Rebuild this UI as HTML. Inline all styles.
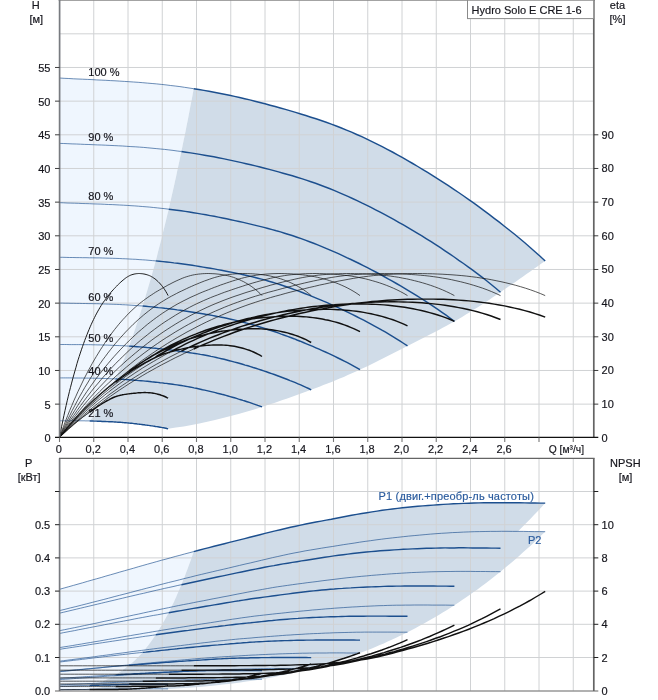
<!DOCTYPE html>
<html lang="ru"><head><meta charset="utf-8"><title>Hydro Solo E CRE 1-6</title>
<style>html,body{margin:0;padding:0;background:#fff;}body{width:658px;height:700px;overflow:hidden;}svg{display:block;}</style>
</head><body>
<svg width="658" height="700" viewBox="0 0 658 700" font-family="'Liberation Sans', Arial, sans-serif" font-size="11" fill="#15151c">
<style>text{stroke:#15151c;stroke-width:.18px;stroke-linejoin:round}text.b{stroke:#2b5c9e}</style>
<rect width="658" height="700" fill="#fff"/>
<defs><clipPath id="ct"><rect x="59.5" y="0" width="534.2" height="437.4"/></clipPath><clipPath id="cb"><rect x="59.5" y="458.4" width="534.2" height="232.3"/></clipPath></defs>
<path d="M59.5 78.0 L64.1 78.3 L68.8 78.5 L73.4 78.8 L78.0 79.0 L82.6 79.2 L87.3 79.4 L91.9 79.6 L96.5 79.9 L101.2 80.1 L105.8 80.3 L110.4 80.6 L115.0 80.8 L119.7 81.1 L124.3 81.4 L128.9 81.7 L133.6 82.0 L138.2 82.3 L142.8 82.7 L147.4 83.1 L152.1 83.5 L156.7 83.9 L161.3 84.4 L166.0 84.9 L170.6 85.5 L175.2 86.0 L179.9 86.6 L184.5 87.3 L189.1 88.0 L193.7 88.7 L192.7 94.2 L191.7 99.7 L190.6 105.1 L189.6 110.4 L188.6 115.7 L187.6 121.0 L186.5 126.2 L185.5 131.4 L184.5 136.5 L183.4 141.6 L182.4 146.6 L181.4 151.5 L180.3 156.6 L179.3 161.6 L178.2 166.6 L177.1 171.5 L176.1 176.4 L175.0 181.2 L174.0 186.0 L172.9 190.7 L171.8 195.4 L170.8 200.0 L169.7 204.6 L168.7 209.2 L167.6 213.7 L166.5 218.3 L165.4 222.8 L164.3 227.2 L163.2 231.6 L162.2 235.9 L161.1 240.2 L160.0 244.4 L158.9 248.6 L157.8 252.8 L156.8 256.9 L155.7 260.9 L154.6 264.9 L153.5 268.9 L152.4 272.8 L151.3 276.7 L150.2 280.5 L149.1 284.3 L148.0 288.0 L146.9 291.7 L145.8 295.3 L144.8 298.9 L143.7 302.5 L142.6 306.0 L141.4 309.6 L140.3 313.2 L139.2 316.7 L138.1 320.1 L136.9 323.5 L135.8 326.9 L134.7 330.2 L133.6 333.5 L132.5 336.7 L131.3 339.9 L130.2 343.0 L129.1 346.1 L127.9 349.1 L126.8 352.1 L125.7 355.1 L124.5 357.9 L123.4 360.7 L122.3 363.5 L121.1 366.2 L120.0 368.9 L118.9 371.5 L117.7 374.0 L116.6 376.5 L115.5 378.9 L113.3 383.4 L111.1 387.8 L109.0 391.9 L106.8 395.8 L104.7 399.6 L102.5 403.2 L100.3 406.6 L98.2 409.8 L96.0 412.8 L93.8 415.7 L91.7 418.4 L89.5 420.9 L89.5 420.9 L88.5 420.9 L87.4 420.9 L86.4 420.9 L85.4 420.9 L84.3 420.8 L83.3 420.8 L82.3 420.8 L81.2 420.8 L80.2 420.8 L79.2 420.8 L78.1 420.8 L77.1 420.8 L76.1 420.8 L75.0 420.8 L74.0 420.8 L73.0 420.8 L71.9 420.8 L70.9 420.8 L69.8 420.8 L68.8 420.8 L67.8 420.8 L66.7 420.8 L65.7 420.8 L64.7 420.8 L63.6 420.8 L62.6 420.8 L61.6 420.8 L60.5 420.8 L59.5 420.8Z" fill="#eff6fe"/>
<path d="M193.7 88.7 L199.7 89.6 L205.7 90.7 L211.6 91.8 L217.6 92.9 L223.5 94.1 L229.5 95.3 L235.4 96.6 L241.4 98.0 L247.3 99.4 L253.3 100.8 L259.3 102.3 L265.2 103.8 L271.2 105.4 L277.1 107.1 L283.1 108.7 L289.0 110.5 L295.0 112.2 L301.0 114.0 L306.9 115.9 L312.9 117.8 L318.8 119.8 L324.8 121.8 L330.7 123.9 L336.7 126.2 L342.6 128.5 L348.6 131.0 L354.6 133.5 L360.5 136.2 L366.5 138.9 L372.4 141.8 L378.4 144.7 L384.3 147.8 L390.3 150.9 L396.3 154.2 L402.2 157.5 L408.2 160.9 L414.1 164.3 L420.1 167.9 L426.0 171.5 L432.0 175.1 L437.9 178.9 L443.9 182.7 L449.9 186.6 L455.8 190.6 L461.8 194.7 L467.7 198.8 L473.7 203.1 L479.6 207.4 L485.6 211.8 L491.6 216.2 L497.5 220.8 L503.5 225.4 L509.4 230.2 L515.4 235.0 L521.3 239.9 L527.3 245.0 L533.3 250.2 L539.2 255.5 L545.2 261.0 L541.4 263.6 L537.7 266.2 L534.0 268.8 L530.3 271.5 L526.5 274.1 L522.8 276.7 L519.1 279.3 L515.4 281.9 L511.6 284.5 L507.9 287.0 L504.2 289.6 L500.5 292.2 L496.6 294.8 L492.8 297.3 L489.0 299.9 L485.1 302.4 L481.3 304.9 L477.4 307.4 L473.6 309.8 L469.8 312.2 L465.9 314.6 L462.1 316.9 L458.2 319.2 L454.4 321.4 L450.5 323.6 L446.6 325.7 L442.7 327.8 L438.8 329.9 L434.9 332.0 L430.9 334.0 L427.0 336.0 L423.1 338.0 L419.2 339.9 L415.3 341.9 L411.4 343.9 L407.5 345.9 L403.5 347.9 L399.6 349.9 L395.6 352.0 L391.7 354.0 L387.7 356.0 L383.8 358.0 L379.8 360.0 L375.9 362.0 L371.9 364.0 L367.9 365.9 L364.0 367.8 L360.0 369.6 L356.0 371.5 L351.9 373.3 L347.8 375.1 L343.8 376.9 L339.7 378.6 L335.6 380.3 L331.6 381.9 L327.5 383.5 L323.4 385.1 L319.4 386.7 L315.3 388.2 L311.2 389.8 L307.1 391.3 L303.0 392.8 L298.9 394.3 L294.8 395.8 L290.7 397.3 L286.6 398.7 L282.5 400.1 L278.4 401.6 L274.3 402.9 L270.2 404.3 L266.1 405.6 L262.0 406.9 L254.2 409.4 L246.3 411.7 L238.5 414.0 L230.7 416.1 L222.9 418.1 L215.0 420.0 L207.2 421.8 L199.4 423.5 L191.6 425.0 L183.7 426.4 L175.9 427.6 L168.1 428.7 L168.1 428.7 L166.7 428.4 L165.4 428.2 L164.1 427.9 L162.7 427.7 L161.4 427.4 L160.1 427.2 L158.8 427.0 L157.4 426.8 L156.1 426.6 L154.8 426.3 L153.4 426.1 L152.1 425.9 L150.8 425.7 L149.4 425.5 L148.1 425.3 L146.8 425.2 L145.4 425.0 L144.1 424.8 L142.8 424.6 L141.4 424.5 L140.1 424.3 L138.8 424.1 L137.4 424.0 L136.1 423.8 L134.8 423.7 L133.5 423.5 L132.1 423.4 L130.8 423.2 L129.5 423.1 L128.1 423.0 L126.8 422.9 L125.5 422.7 L124.1 422.6 L122.8 422.5 L121.5 422.4 L120.1 422.3 L118.8 422.2 L117.5 422.2 L116.1 422.1 L114.8 422.0 L113.5 421.9 L112.1 421.8 L110.8 421.8 L109.5 421.7 L108.2 421.6 L106.8 421.6 L105.5 421.5 L104.2 421.4 L102.8 421.4 L101.5 421.3 L100.2 421.3 L98.8 421.2 L97.5 421.2 L96.2 421.1 L94.8 421.1 L93.5 421.0 L92.2 421.0 L90.8 421.0 L89.5 420.9 L89.5 420.9 L91.7 418.4 L93.8 415.7 L96.0 412.8 L98.2 409.8 L100.3 406.6 L102.5 403.2 L104.7 399.6 L106.8 395.8 L109.0 391.9 L111.1 387.8 L113.3 383.4 L115.5 378.9 L116.6 376.5 L117.7 374.0 L118.9 371.5 L120.0 368.9 L121.1 366.2 L122.3 363.5 L123.4 360.7 L124.5 357.9 L125.7 355.1 L126.8 352.1 L127.9 349.1 L129.1 346.1 L130.2 343.0 L131.3 339.9 L132.5 336.7 L133.6 333.5 L134.7 330.2 L135.8 326.9 L136.9 323.5 L138.1 320.1 L139.2 316.7 L140.3 313.2 L141.4 309.6 L142.6 306.0 L143.7 302.5 L144.8 298.9 L145.8 295.3 L146.9 291.7 L148.0 288.0 L149.1 284.3 L150.2 280.5 L151.3 276.7 L152.4 272.8 L153.5 268.9 L154.6 264.9 L155.7 260.9 L156.8 256.9 L157.8 252.8 L158.9 248.6 L160.0 244.4 L161.1 240.2 L162.2 235.9 L163.2 231.6 L164.3 227.2 L165.4 222.8 L166.5 218.3 L167.6 213.7 L168.7 209.2 L169.7 204.6 L170.8 200.0 L171.8 195.4 L172.9 190.7 L174.0 186.0 L175.0 181.2 L176.1 176.4 L177.1 171.5 L178.2 166.6 L179.3 161.6 L180.3 156.6 L181.4 151.5 L182.4 146.6 L183.4 141.6 L184.5 136.5 L185.5 131.4 L186.5 126.2 L187.6 121.0 L188.6 115.7 L189.6 110.4 L190.6 105.1 L191.7 99.7 L192.7 94.2 L193.7 88.7Z" fill="#d0dce8"/>
<path d="M93.75 0V437.4M128.00 0V437.4M162.25 0V437.4M196.50 0V437.4M230.75 0V437.4M265.00 0V437.4M299.25 0V437.4M333.50 0V437.4M367.75 0V437.4M402.00 0V437.4M436.25 0V437.4M470.50 0V437.4M504.75 0V437.4M539.00 0V437.4M573.25 0V437.4M59.5 404.13H593.7M59.5 370.47H593.7M59.5 336.81H593.7M59.5 303.14H593.7M59.5 269.48H593.7M59.5 235.81H593.7M59.5 202.14H593.7M59.5 168.48H593.7M59.5 134.81H593.7M59.5 101.15H593.7M59.5 67.48H593.7M59.5 33.82H593.7" stroke="#d0d2d4" stroke-width="1" fill="none"/>
<path d="M59.5 78.0 L64.1 78.3 L68.8 78.5 L73.4 78.8 L78.0 79.0 L82.6 79.2 L87.3 79.4 L91.9 79.6 L96.5 79.9 L101.2 80.1 L105.8 80.3 L110.4 80.6 L115.0 80.8 L119.7 81.1 L124.3 81.4 L128.9 81.7 L133.6 82.0 L138.2 82.3 L142.8 82.7 L147.4 83.1 L152.1 83.5 L156.7 83.9 L161.3 84.4 L166.0 84.9 L170.6 85.5 L175.2 86.0 L179.9 86.6 L184.5 87.3 L189.1 88.0 L193.7 88.7M59.5 143.4 L63.7 143.5 L67.9 143.7 L72.1 143.9 L76.3 144.0 L80.5 144.2 L84.7 144.4 L88.9 144.5 L93.1 144.7 L97.3 144.9 L101.5 145.0 L105.7 145.2 L109.9 145.4 L114.1 145.6 L118.3 145.8 L122.5 146.0 L126.7 146.3 L130.9 146.6 L135.2 146.8 L139.4 147.1 L143.6 147.4 L147.8 147.8 L152.0 148.2 L156.2 148.6 L160.4 149.0 L164.6 149.4 L168.8 149.9 L173.0 150.4 L177.2 151.0 L181.4 151.5M59.5 202.7 L63.3 202.8 L67.0 203.0 L70.8 203.1 L74.6 203.2 L78.3 203.3 L82.1 203.5 L85.8 203.6 L89.6 203.7 L93.4 203.9 L97.1 204.0 L100.9 204.1 L104.7 204.3 L108.4 204.5 L112.2 204.6 L116.0 204.8 L119.7 205.0 L123.5 205.2 L127.2 205.4 L131.0 205.7 L134.8 205.9 L138.5 206.2 L142.3 206.5 L146.1 206.8 L149.8 207.1 L153.6 207.5 L157.4 207.9 L161.1 208.3 L164.9 208.7 L168.7 209.2M59.5 257.3 L62.8 257.3 L66.1 257.4 L69.4 257.5 L72.8 257.5 L76.1 257.6 L79.4 257.6 L82.7 257.7 L86.0 257.7 L89.3 257.8 L92.7 257.8 L96.0 257.9 L99.3 257.9 L102.6 258.0 L105.9 258.1 L109.2 258.2 L112.6 258.3 L115.9 258.4 L119.2 258.5 L122.5 258.7 L125.8 258.8 L129.1 259.0 L132.5 259.2 L135.8 259.3 L139.1 259.6 L142.4 259.8 L145.7 260.0 L149.0 260.3 L152.4 260.6 L155.7 260.9M59.5 303.1 L62.4 303.1 L65.2 303.2 L68.1 303.2 L71.0 303.3 L73.8 303.3 L76.7 303.4 L79.6 303.4 L82.4 303.5 L85.3 303.5 L88.1 303.6 L91.0 303.6 L93.9 303.7 L96.7 303.7 L99.6 303.8 L102.5 303.9 L105.3 304.0 L108.2 304.1 L111.1 304.2 L113.9 304.3 L116.8 304.4 L119.7 304.5 L122.5 304.7 L125.4 304.8 L128.2 305.0 L131.1 305.2 L134.0 305.4 L136.8 305.6 L139.7 305.8 L142.6 306.0M59.5 344.5 L61.9 344.5 L64.3 344.5 L66.7 344.5 L69.1 344.6 L71.5 344.6 L73.9 344.6 L76.3 344.6 L78.7 344.6 L81.1 344.6 L83.5 344.7 L85.9 344.7 L88.3 344.7 L90.7 344.7 L93.1 344.8 L95.5 344.8 L97.9 344.9 L100.3 344.9 L102.7 345.0 L105.1 345.0 L107.5 345.1 L109.9 345.2 L112.3 345.3 L114.7 345.4 L117.1 345.5 L119.5 345.6 L121.9 345.7 L124.3 345.8 L126.7 346.0 L129.1 346.1M59.5 377.9 L61.4 377.9 L63.4 377.9 L65.3 377.9 L67.2 377.9 L69.2 377.9 L71.1 377.9 L73.0 378.0 L74.9 378.0 L76.9 378.0 L78.8 378.0 L80.7 378.0 L82.7 378.0 L84.6 378.1 L86.5 378.1 L88.5 378.1 L90.4 378.1 L92.3 378.2 L94.2 378.2 L96.2 378.2 L98.1 378.3 L100.0 378.3 L102.0 378.4 L103.9 378.5 L105.8 378.5 L107.8 378.6 L109.7 378.7 L111.6 378.8 L113.5 378.8 L115.5 378.9M59.5 420.8 L60.5 420.8 L61.6 420.8 L62.6 420.8 L63.6 420.8 L64.7 420.8 L65.7 420.8 L66.7 420.8 L67.8 420.8 L68.8 420.8 L69.8 420.8 L70.9 420.8 L71.9 420.8 L73.0 420.8 L74.0 420.8 L75.0 420.8 L76.1 420.8 L77.1 420.8 L78.1 420.8 L79.2 420.8 L80.2 420.8 L81.2 420.8 L82.3 420.8 L83.3 420.8 L84.3 420.8 L85.4 420.9 L86.4 420.9 L87.4 420.9 L88.5 420.9 L89.5 420.9" stroke="#1c4f8e" stroke-width="0.65" fill="none"/>
<path d="M193.7 88.7 L198.8 89.5 L203.9 90.4 L209.0 91.3 L214.1 92.2 L219.2 93.2 L224.3 94.2 L229.4 95.3 L234.5 96.4 L239.6 97.5 L244.7 98.7 L249.8 99.9 L254.9 101.2 L259.9 102.5 L265.0 103.8 L270.1 105.2 L275.2 106.5 L280.3 108.0 L285.4 109.4 L290.5 110.9 L295.6 112.4 L300.7 114.0 L305.8 115.5 L310.9 117.2 L316.0 118.8 L321.1 120.5 L326.2 122.3 L331.3 124.1 L336.3 126.0 L341.4 128.0 L346.5 130.1 L351.6 132.2 L356.7 134.5 L361.8 136.7 L366.9 139.1 L372.0 141.6 L377.1 144.1 L382.2 146.7 L387.3 149.3 L392.4 152.0 L397.5 154.8 L402.6 157.7 L407.7 160.6 L412.7 163.5 L417.8 166.5 L422.9 169.6 L428.0 172.7 L433.1 175.9 L438.2 179.1 L443.3 182.3 L448.4 185.7 L453.5 189.1 L458.6 192.5 L463.7 196.0 L468.8 199.6 L473.9 203.2 L479.0 206.9 L484.0 210.6 L489.1 214.4 L494.2 218.3 L499.3 222.2 L504.4 226.2 L509.5 230.2 L514.6 234.3 L519.7 238.5 L524.8 242.8 L529.9 247.2 L535.0 251.7 L540.1 256.3 L545.2 261.0M181.4 151.5 L186.0 152.2 L190.6 152.9 L195.3 153.6 L199.9 154.4 L204.5 155.2 L209.1 156.0 L213.8 156.8 L218.4 157.7 L223.0 158.6 L227.6 159.6 L232.3 160.6 L236.9 161.6 L241.5 162.6 L246.1 163.7 L250.8 164.8 L255.4 165.9 L260.0 167.0 L264.6 168.2 L269.2 169.4 L273.9 170.6 L278.5 171.9 L283.1 173.2 L287.7 174.5 L292.4 175.8 L297.0 177.2 L301.6 178.6 L306.2 180.1 L310.9 181.7 L315.5 183.3 L320.1 185.0 L324.7 186.7 L329.4 188.5 L334.0 190.4 L338.6 192.3 L343.2 194.3 L347.9 196.4 L352.5 198.5 L357.1 200.6 L361.7 202.9 L366.4 205.1 L371.0 207.4 L375.6 209.8 L380.2 212.2 L384.9 214.7 L389.5 217.2 L394.1 219.7 L398.7 222.3 L403.4 224.9 L408.0 227.6 L412.6 230.3 L417.2 233.1 L421.9 235.9 L426.5 238.8 L431.1 241.7 L435.7 244.7 L440.4 247.7 L445.0 250.8 L449.6 253.9 L454.2 257.0 L458.8 260.3 L463.5 263.5 L468.1 266.8 L472.7 270.2 L477.3 273.7 L482.0 277.2 L486.6 280.8 L491.2 284.5 L495.8 288.3 L500.5 292.2M168.7 209.2 L172.8 209.7 L176.9 210.2 L181.1 210.8 L185.2 211.4 L189.4 212.0 L193.5 212.7 L197.6 213.4 L201.8 214.1 L205.9 214.8 L210.1 215.6 L214.2 216.3 L218.3 217.1 L222.5 218.0 L226.6 218.8 L230.8 219.7 L234.9 220.6 L239.1 221.5 L243.2 222.4 L247.3 223.4 L251.5 224.4 L255.6 225.4 L259.8 226.4 L263.9 227.4 L268.0 228.5 L272.2 229.6 L276.3 230.8 L280.5 231.9 L284.6 233.2 L288.7 234.5 L292.9 235.8 L297.0 237.2 L301.2 238.6 L305.3 240.1 L309.5 241.7 L313.6 243.3 L317.7 244.9 L321.9 246.6 L326.0 248.3 L330.2 250.1 L334.3 251.9 L338.4 253.7 L342.6 255.6 L346.7 257.6 L350.9 259.5 L355.0 261.5 L359.2 263.5 L363.3 265.6 L367.4 267.7 L371.6 269.8 L375.7 272.0 L379.9 274.2 L384.0 276.5 L388.1 278.8 L392.3 281.1 L396.4 283.5 L400.6 285.9 L404.7 288.3 L408.8 290.8 L413.0 293.3 L417.1 295.9 L421.3 298.5 L425.4 301.2 L429.6 303.9 L433.7 306.6 L437.8 309.4 L442.0 312.3 L446.1 315.2 L450.3 318.3 L454.4 321.4M155.7 260.9 L159.3 261.2 L163.0 261.6 L166.6 262.0 L170.3 262.4 L173.9 262.9 L177.6 263.3 L181.2 263.8 L184.9 264.3 L188.5 264.8 L192.2 265.3 L195.8 265.9 L199.5 266.5 L203.1 267.1 L206.8 267.7 L210.4 268.3 L214.1 268.9 L217.7 269.6 L221.4 270.3 L225.0 271.0 L228.7 271.7 L232.3 272.4 L236.0 273.2 L239.6 273.9 L243.3 274.7 L246.9 275.5 L250.6 276.4 L254.2 277.3 L257.9 278.2 L261.5 279.1 L265.2 280.1 L268.8 281.2 L272.5 282.3 L276.1 283.4 L279.8 284.5 L283.4 285.7 L287.1 287.0 L290.7 288.2 L294.4 289.6 L298.0 290.9 L301.7 292.3 L305.3 293.7 L309.0 295.1 L312.6 296.6 L316.2 298.1 L319.9 299.6 L323.5 301.2 L327.2 302.7 L330.8 304.3 L334.5 306.0 L338.1 307.6 L341.8 309.3 L345.4 311.1 L349.1 312.8 L352.7 314.6 L356.4 316.5 L360.0 318.3 L363.7 320.2 L367.3 322.1 L371.0 324.1 L374.6 326.1 L378.3 328.1 L381.9 330.2 L385.6 332.2 L389.2 334.4 L392.9 336.6 L396.5 338.8 L400.2 341.1 L403.8 343.5 L407.5 345.9M142.6 306.0 L145.7 306.3 L148.9 306.6 L152.0 306.9 L155.2 307.2 L158.3 307.6 L161.5 307.9 L164.6 308.3 L167.8 308.6 L170.9 309.0 L174.1 309.4 L177.2 309.9 L180.4 310.3 L183.5 310.8 L186.7 311.2 L189.8 311.7 L193.0 312.2 L196.2 312.7 L199.3 313.2 L202.5 313.7 L205.6 314.3 L208.8 314.8 L211.9 315.4 L215.1 316.0 L218.2 316.6 L221.4 317.2 L224.5 317.8 L227.7 318.5 L230.8 319.2 L234.0 319.9 L237.1 320.6 L240.3 321.4 L243.4 322.2 L246.6 323.1 L249.7 323.9 L252.9 324.8 L256.0 325.8 L259.2 326.7 L262.3 327.7 L265.5 328.7 L268.6 329.7 L271.8 330.8 L274.9 331.8 L278.1 332.9 L281.2 334.1 L284.4 335.2 L287.6 336.4 L290.7 337.5 L293.9 338.7 L297.0 340.0 L300.2 341.2 L303.3 342.5 L306.5 343.8 L309.6 345.1 L312.8 346.4 L315.9 347.8 L319.1 349.2 L322.2 350.6 L325.4 352.0 L328.5 353.4 L331.7 354.9 L334.8 356.4 L338.0 358.0 L341.1 359.5 L344.3 361.1 L347.4 362.7 L350.6 364.4 L353.7 366.1 L356.9 367.8 L360.0 369.6M129.1 346.1 L131.7 346.3 L134.4 346.5 L137.0 346.7 L139.6 346.9 L142.3 347.1 L144.9 347.3 L147.6 347.6 L150.2 347.8 L152.8 348.1 L155.5 348.3 L158.1 348.6 L160.8 348.9 L163.4 349.2 L166.0 349.5 L168.7 349.8 L171.3 350.1 L174.0 350.5 L176.6 350.8 L179.2 351.2 L181.9 351.5 L184.5 351.9 L187.2 352.3 L189.8 352.7 L192.4 353.1 L195.1 353.5 L197.7 353.9 L200.4 354.4 L203.0 354.8 L205.6 355.3 L208.3 355.8 L210.9 356.4 L213.6 356.9 L216.2 357.5 L218.8 358.1 L221.5 358.7 L224.1 359.3 L226.8 360.0 L229.4 360.7 L232.0 361.4 L234.7 362.1 L237.3 362.8 L240.0 363.5 L242.6 364.3 L245.2 365.1 L247.9 365.8 L250.5 366.6 L253.2 367.5 L255.8 368.3 L258.4 369.1 L261.1 370.0 L263.7 370.9 L266.4 371.8 L269.0 372.7 L271.6 373.6 L274.3 374.5 L276.9 375.5 L279.6 376.5 L282.2 377.5 L284.8 378.5 L287.5 379.5 L290.1 380.6 L292.8 381.6 L295.4 382.7 L298.0 383.8 L300.7 384.9 L303.3 386.1 L306.0 387.3 L308.6 388.5 L311.2 389.8M115.5 378.9 L117.6 379.1 L119.7 379.2 L121.8 379.3 L124.0 379.4 L126.1 379.6 L128.2 379.7 L130.3 379.9 L132.5 380.0 L134.6 380.2 L136.7 380.4 L138.8 380.6 L141.0 380.7 L143.1 380.9 L145.2 381.1 L147.3 381.3 L149.5 381.5 L151.6 381.8 L153.7 382.0 L155.8 382.2 L157.9 382.4 L160.1 382.7 L162.2 382.9 L164.3 383.2 L166.4 383.4 L168.6 383.7 L170.7 384.0 L172.8 384.3 L174.9 384.6 L177.1 384.9 L179.2 385.2 L181.3 385.5 L183.4 385.9 L185.6 386.3 L187.7 386.6 L189.8 387.0 L191.9 387.4 L194.0 387.9 L196.2 388.3 L198.3 388.7 L200.4 389.2 L202.5 389.7 L204.7 390.1 L206.8 390.6 L208.9 391.1 L211.0 391.6 L213.2 392.1 L215.3 392.6 L217.4 393.2 L219.5 393.7 L221.7 394.3 L223.8 394.8 L225.9 395.4 L228.0 396.0 L230.1 396.6 L232.3 397.2 L234.4 397.8 L236.5 398.4 L238.6 399.1 L240.8 399.7 L242.9 400.4 L245.0 401.0 L247.1 401.7 L249.3 402.4 L251.4 403.1 L253.5 403.9 L255.6 404.6 L257.8 405.4 L259.9 406.1 L262.0 406.9M89.5 420.9 L90.6 421.0 L91.8 421.0 L92.9 421.0 L94.1 421.1 L95.2 421.1 L96.3 421.1 L97.5 421.2 L98.6 421.2 L99.8 421.3 L100.9 421.3 L102.0 421.4 L103.2 421.4 L104.3 421.5 L105.4 421.5 L106.6 421.6 L107.7 421.6 L108.9 421.7 L110.0 421.7 L111.1 421.8 L112.3 421.8 L113.4 421.9 L114.6 422.0 L115.7 422.0 L116.8 422.1 L118.0 422.2 L119.1 422.3 L120.3 422.3 L121.4 422.4 L122.5 422.5 L123.7 422.6 L124.8 422.7 L125.9 422.8 L127.1 422.9 L128.2 423.0 L129.4 423.1 L130.5 423.2 L131.6 423.3 L132.8 423.4 L133.9 423.6 L135.1 423.7 L136.2 423.8 L137.3 424.0 L138.5 424.1 L139.6 424.2 L140.7 424.4 L141.9 424.5 L143.0 424.7 L144.2 424.8 L145.3 425.0 L146.4 425.1 L147.6 425.3 L148.7 425.4 L149.9 425.6 L151.0 425.8 L152.1 425.9 L153.3 426.1 L154.4 426.3 L155.5 426.5 L156.7 426.6 L157.8 426.8 L159.0 427.0 L160.1 427.2 L161.2 427.4 L162.4 427.6 L163.5 427.8 L164.7 428.0 L165.8 428.2 L166.9 428.5 L168.1 428.7" stroke="#1c4f8e" stroke-width="1.45" fill="none" stroke-linecap="butt"/>
<path d="M59.5 437.4 L64.4 431.7 L69.3 426.2 L74.2 420.8 L79.1 415.6 L84.0 410.5 L88.9 405.6 L93.8 400.8 L98.7 396.2 L103.7 391.7 L108.6 387.3 L113.5 383.1 L118.4 378.9 L123.3 374.9 L128.2 371.0 L133.1 367.2 L138.0 363.5 L142.9 359.9 L147.8 356.5 L152.7 353.1 L157.6 349.8 L162.5 346.6 L167.4 343.5 L172.3 340.5 L177.2 337.6 L182.1 334.8 L187.0 332.0 L192.0 329.4 L196.9 326.8 L201.8 324.3 L206.7 321.9 L211.6 319.6 L216.5 317.4 L221.4 315.2 L226.3 313.1 L231.2 311.1 L236.1 309.2 L241.0 307.3 L245.9 305.5 L250.8 303.8 L255.7 302.2 L260.6 300.6 L265.5 299.1 L270.4 297.6 L275.4 296.2 L280.3 294.9 L285.2 293.5 L290.1 292.2 L295.0 291.0 L299.9 289.8 L304.8 288.6 L309.7 287.4 L314.6 286.3 L319.5 285.1 L324.4 284.1 L329.3 283.0 L334.2 282.0 L339.1 281.0 L344.0 280.1 L348.9 279.2 L353.8 278.3 L358.7 277.5 L363.7 276.8 L368.6 276.2 L373.5 275.6 L378.4 275.1 L383.3 274.7 L388.2 274.4 L393.1 274.1 L398.0 273.9 L402.9 273.7 L407.8 273.6 L412.7 273.5 L417.6 273.5 L422.5 273.6 L427.4 273.7 L432.3 273.8 L437.2 274.0 L442.1 274.2 L447.1 274.5 L452.0 274.8 L456.9 275.2 L461.8 275.6 L466.7 276.1 L471.6 276.7 L476.5 277.3 L481.4 278.1 L486.3 278.8 L491.2 279.7 L496.1 280.7 L501.0 281.7 L505.9 282.8 L510.8 284.0 L515.7 285.3 L520.6 286.7 L525.5 288.2 L530.4 289.8 L535.4 291.6 L540.3 293.5 L545.2 295.6M59.5 437.4 L64.0 431.7 L68.4 426.2 L72.9 420.8 L77.3 415.6 L81.8 410.5 L86.2 405.6 L90.7 400.8 L95.1 396.2 L99.6 391.7 L104.0 387.3 L108.5 383.1 L113.0 378.9 L117.4 374.9 L121.9 371.0 L126.3 367.2 L130.8 363.5 L135.2 359.9 L139.7 356.5 L144.1 353.1 L148.6 349.8 L153.0 346.6 L157.5 343.5 L161.9 340.5 L166.4 337.6 L170.9 334.8 L175.3 332.0 L179.8 329.4 L184.2 326.8 L188.7 324.3 L193.1 321.9 L197.6 319.6 L202.0 317.4 L206.5 315.2 L210.9 313.1 L215.4 311.1 L219.9 309.2 L224.3 307.3 L228.8 305.5 L233.2 303.8 L237.7 302.2 L242.1 300.6 L246.6 299.1 L251.0 297.6 L255.5 296.2 L259.9 294.9 L264.4 293.5 L268.8 292.2 L273.3 291.0 L277.8 289.8 L282.2 288.6 L286.7 287.4 L291.1 286.3 L295.6 285.1 L300.0 284.1 L304.5 283.0 L308.9 282.0 L313.4 281.0 L317.8 280.1 L322.3 279.2 L326.8 278.3 L331.2 277.5 L335.7 276.8 L340.1 276.2 L344.6 275.6 L349.0 275.1 L353.5 274.7 L357.9 274.4 L362.4 274.1 L366.8 273.9 L371.3 273.7 L375.8 273.6 L380.2 273.5 L384.7 273.5 L389.1 273.6 L393.6 273.7 L398.0 273.8 L402.5 274.0 L406.9 274.2 L411.4 274.5 L415.8 274.8 L420.3 275.2 L424.7 275.6 L429.2 276.1 L433.7 276.7 L438.1 277.3 L442.6 278.1 L447.0 278.8 L451.5 279.7 L455.9 280.7 L460.4 281.7 L464.8 282.8 L469.3 284.0 L473.7 285.3 L478.2 286.7 L482.7 288.2 L487.1 289.8 L491.6 291.6 L496.0 293.5 L500.5 295.6M59.5 437.4 L63.5 431.7 L67.5 426.2 L71.5 420.8 L75.5 415.6 L79.4 410.5 L83.4 405.6 L87.4 400.8 L91.4 396.2 L95.4 391.7 L99.4 387.3 L103.4 383.1 L107.4 378.9 L111.4 374.9 L115.3 371.0 L119.3 367.2 L123.3 363.5 L127.3 359.9 L131.3 356.5 L135.3 353.1 L139.3 349.8 L143.3 346.6 L147.3 343.5 L151.2 340.5 L155.2 337.6 L159.2 334.8 L163.2 332.0 L167.2 329.4 L171.2 326.8 L175.2 324.3 L179.2 321.9 L183.2 319.6 L187.1 317.4 L191.1 315.2 L195.1 313.1 L199.1 311.1 L203.1 309.2 L207.1 307.3 L211.1 305.5 L215.1 303.8 L219.1 302.2 L223.0 300.6 L227.0 299.1 L231.0 297.6 L235.0 296.2 L239.0 294.9 L243.0 293.5 L247.0 292.2 L251.0 291.0 L255.0 289.8 L258.9 288.6 L262.9 287.4 L266.9 286.3 L270.9 285.1 L274.9 284.1 L278.9 283.0 L282.9 282.0 L286.9 281.0 L290.9 280.1 L294.8 279.2 L298.8 278.3 L302.8 277.5 L306.8 276.8 L310.8 276.2 L314.8 275.6 L318.8 275.1 L322.8 274.7 L326.8 274.4 L330.7 274.1 L334.7 273.9 L338.7 273.7 L342.7 273.6 L346.7 273.5 L350.7 273.5 L354.7 273.6 L358.7 273.7 L362.7 273.8 L366.6 274.0 L370.6 274.2 L374.6 274.5 L378.6 274.8 L382.6 275.2 L386.6 275.6 L390.6 276.1 L394.6 276.7 L398.6 277.3 L402.5 278.1 L406.5 278.8 L410.5 279.7 L414.5 280.7 L418.5 281.7 L422.5 282.8 L426.5 284.0 L430.5 285.3 L434.5 286.7 L438.4 288.2 L442.4 289.8 L446.4 291.6 L450.4 293.5 L454.4 295.6M59.5 437.4 L63.0 431.7 L66.5 426.2 L70.0 420.8 L73.6 415.6 L77.1 410.5 L80.6 405.6 L84.1 400.8 L87.6 396.2 L91.1 391.7 L94.6 387.3 L98.2 383.1 L101.7 378.9 L105.2 374.9 L108.7 371.0 L112.2 367.2 L115.7 363.5 L119.3 359.9 L122.8 356.5 L126.3 353.1 L129.8 349.8 L133.3 346.6 L136.8 343.5 L140.3 340.5 L143.9 337.6 L147.4 334.8 L150.9 332.0 L154.4 329.4 L157.9 326.8 L161.4 324.3 L164.9 321.9 L168.5 319.6 L172.0 317.4 L175.5 315.2 L179.0 313.1 L182.5 311.1 L186.0 309.2 L189.6 307.3 L193.1 305.5 L196.6 303.8 L200.1 302.2 L203.6 300.6 L207.1 299.1 L210.6 297.6 L214.2 296.2 L217.7 294.9 L221.2 293.5 L224.7 292.2 L228.2 291.0 L231.7 289.8 L235.2 288.6 L238.8 287.4 L242.3 286.3 L245.8 285.1 L249.3 284.1 L252.8 283.0 L256.3 282.0 L259.9 281.0 L263.4 280.1 L266.9 279.2 L270.4 278.3 L273.9 277.5 L277.4 276.8 L280.9 276.2 L284.5 275.6 L288.0 275.1 L291.5 274.7 L295.0 274.4 L298.5 274.1 L302.0 273.9 L305.5 273.7 L309.1 273.6 L312.6 273.5 L316.1 273.5 L319.6 273.6 L323.1 273.7 L326.6 273.8 L330.2 274.0 L333.7 274.2 L337.2 274.5 L340.7 274.8 L344.2 275.2 L347.7 275.6 L351.2 276.1 L354.8 276.7 L358.3 277.3 L361.8 278.1 L365.3 278.8 L368.8 279.7 L372.3 280.7 L375.8 281.7 L379.4 282.8 L382.9 284.0 L386.4 285.3 L389.9 286.7 L393.4 288.2 L396.9 289.8 L400.5 291.6 L404.0 293.5 L407.5 295.6M59.5 437.4 L62.5 431.7 L65.6 426.2 L68.6 420.8 L71.6 415.6 L74.7 410.5 L77.7 405.6 L80.8 400.8 L83.8 396.2 L86.8 391.7 L89.9 387.3 L92.9 383.1 L95.9 378.9 L99.0 374.9 L102.0 371.0 L105.0 367.2 L108.1 363.5 L111.1 359.9 L114.1 356.5 L117.2 353.1 L120.2 349.8 L123.3 346.6 L126.3 343.5 L129.3 340.5 L132.4 337.6 L135.4 334.8 L138.4 332.0 L141.5 329.4 L144.5 326.8 L147.5 324.3 L150.6 321.9 L153.6 319.6 L156.6 317.4 L159.7 315.2 L162.7 313.1 L165.8 311.1 L168.8 309.2 L171.8 307.3 L174.9 305.5 L177.9 303.8 L180.9 302.2 L184.0 300.6 L187.0 299.1 L190.0 297.6 L193.1 296.2 L196.1 294.9 L199.1 293.5 L202.2 292.2 L205.2 291.0 L208.3 289.8 L211.3 288.6 L214.3 287.4 L217.4 286.3 L220.4 285.1 L223.4 284.1 L226.5 283.0 L229.5 282.0 L232.5 281.0 L235.6 280.1 L238.6 279.2 L241.6 278.3 L244.7 277.5 L247.7 276.8 L250.8 276.2 L253.8 275.6 L256.8 275.1 L259.9 274.7 L262.9 274.4 L265.9 274.1 L269.0 273.9 L272.0 273.7 L275.0 273.6 L278.1 273.5 L281.1 273.5 L284.1 273.6 L287.2 273.7 L290.2 273.8 L293.3 274.0 L296.3 274.2 L299.3 274.5 L302.4 274.8 L305.4 275.2 L308.4 275.6 L311.5 276.1 L314.5 276.7 L317.5 277.3 L320.6 278.1 L323.6 278.8 L326.7 279.7 L329.7 280.7 L332.7 281.7 L335.8 282.8 L338.8 284.0 L341.8 285.3 L344.9 286.7 L347.9 288.2 L350.9 289.8 L354.0 291.6 L357.0 293.5 L360.0 295.6M59.5 437.4 L62.0 431.7 L64.6 426.2 L67.1 420.8 L69.7 415.6 L72.2 410.5 L74.8 405.6 L77.3 400.8 L79.8 396.2 L82.4 391.7 L84.9 387.3 L87.5 383.1 L90.0 378.9 L92.6 374.9 L95.1 371.0 L97.6 367.2 L100.2 363.5 L102.7 359.9 L105.3 356.5 L107.8 353.1 L110.4 349.8 L112.9 346.6 L115.4 343.5 L118.0 340.5 L120.5 337.6 L123.1 334.8 L125.6 332.0 L128.2 329.4 L130.7 326.8 L133.2 324.3 L135.8 321.9 L138.3 319.6 L140.9 317.4 L143.4 315.2 L146.0 313.1 L148.5 311.1 L151.0 309.2 L153.6 307.3 L156.1 305.5 L158.7 303.8 L161.2 302.2 L163.8 300.6 L166.3 299.1 L168.8 297.6 L171.4 296.2 L173.9 294.9 L176.5 293.5 L179.0 292.2 L181.6 291.0 L184.1 289.8 L186.6 288.6 L189.2 287.4 L191.7 286.3 L194.3 285.1 L196.8 284.1 L199.4 283.0 L201.9 282.0 L204.4 281.0 L207.0 280.1 L209.5 279.2 L212.1 278.3 L214.6 277.5 L217.2 276.8 L219.7 276.2 L222.2 275.6 L224.8 275.1 L227.3 274.7 L229.9 274.4 L232.4 274.1 L235.0 273.9 L237.5 273.7 L240.0 273.6 L242.6 273.5 L245.1 273.5 L247.7 273.6 L250.2 273.7 L252.8 273.8 L255.3 274.0 L257.8 274.2 L260.4 274.5 L262.9 274.8 L265.5 275.2 L268.0 275.6 L270.6 276.1 L273.1 276.7 L275.6 277.3 L278.2 278.1 L280.7 278.8 L283.3 279.7 L285.8 280.7 L288.4 281.7 L290.9 282.8 L293.4 284.0 L296.0 285.3 L298.5 286.7 L301.1 288.2 L303.6 289.8 L306.2 291.6 L308.7 293.5 L311.2 295.6M59.5 437.4 L61.5 431.7 L63.6 426.2 L65.6 420.8 L67.7 415.6 L69.7 410.5 L71.8 405.6 L73.8 400.8 L75.9 396.2 L77.9 391.7 L80.0 387.3 L82.0 383.1 L84.0 378.9 L86.1 374.9 L88.1 371.0 L90.2 367.2 L92.2 363.5 L94.3 359.9 L96.3 356.5 L98.4 353.1 L100.4 349.8 L102.5 346.6 L104.5 343.5 L106.5 340.5 L108.6 337.6 L110.6 334.8 L112.7 332.0 L114.7 329.4 L116.8 326.8 L118.8 324.3 L120.9 321.9 L122.9 319.6 L125.0 317.4 L127.0 315.2 L129.0 313.1 L131.1 311.1 L133.1 309.2 L135.2 307.3 L137.2 305.5 L139.3 303.8 L141.3 302.2 L143.4 300.6 L145.4 299.1 L147.5 297.6 L149.5 296.2 L151.5 294.9 L153.6 293.5 L155.6 292.2 L157.7 291.0 L159.7 289.8 L161.8 288.6 L163.8 287.4 L165.9 286.3 L167.9 285.1 L170.0 284.1 L172.0 283.0 L174.0 282.0 L176.1 281.0 L178.1 280.1 L180.2 279.2 L182.2 278.3 L184.3 277.5 L186.3 276.8 L188.4 276.2 L190.4 275.6 L192.5 275.1 L194.5 274.7 L196.5 274.4 L198.6 274.1 L200.6 273.9 L202.7 273.7 L204.7 273.6 L206.8 273.5 L208.8 273.5 L210.9 273.6 L212.9 273.7 L215.0 273.8 L217.0 274.0 L219.0 274.2 L221.1 274.5 L223.1 274.8 L225.2 275.2 L227.2 275.6 L229.3 276.1 L231.3 276.7 L233.4 277.3 L235.4 278.1 L237.5 278.8 L239.5 279.7 L241.5 280.7 L243.6 281.7 L245.6 282.8 L247.7 284.0 L249.7 285.3 L251.8 286.7 L253.8 288.2 L255.9 289.8 L257.9 291.6 L260.0 293.5 L262.0 295.6" stroke="#111" stroke-width="0.7" fill="none"/>
<path d="M59.5 437.4 L60.6 431.7 L61.7 426.2 L62.8 420.8 L63.9 415.6 L65.0 410.5 L66.1 405.6 L67.2 400.8 L68.3 396.2 L69.4 391.7 L70.5 387.3 L71.6 383.1 L72.7 378.9 L73.8 374.9 L74.9 371.0 L76.0 367.2 L77.0 363.5 L78.1 359.9 L79.2 356.5 L80.3 353.1 L81.4 349.8 L82.5 346.6 L83.6 343.5 L84.7 340.5 L85.8 337.6 L86.9 334.8 L88.0 332.0 L89.1 329.4 L90.2 326.8 L91.3 324.3 L92.4 321.9 L93.5 319.6 L94.6 317.4 L95.7 315.2 L96.8 313.1 L97.9 311.1 L99.0 309.2 L100.1 307.3 L101.2 305.5 L102.3 303.8 L103.4 302.2 L104.5 300.6 L105.6 299.1 L106.7 297.6 L107.8 296.2 L108.9 294.9 L109.9 293.5 L111.0 292.2 L112.1 291.0 L113.2 289.8 L114.3 288.6 L115.4 287.4 L116.5 286.3 L117.6 285.1 L118.7 284.1 L119.8 283.0 L120.9 282.0 L122.0 281.0 L123.1 280.1 L124.2 279.2 L125.3 278.3 L126.4 277.5 L127.5 276.8 L128.6 276.2 L129.7 275.6 L130.8 275.1 L131.9 274.7 L133.0 274.4 L134.1 274.1 L135.2 273.9 L136.3 273.7 L137.4 273.6 L138.5 273.5 L139.6 273.5 L140.7 273.6 L141.8 273.7 L142.8 273.8 L143.9 274.0 L145.0 274.2 L146.1 274.5 L147.2 274.8 L148.3 275.2 L149.4 275.6 L150.5 276.1 L151.6 276.7 L152.7 277.3 L153.8 278.1 L154.9 278.8 L156.0 279.7 L157.1 280.7 L158.2 281.7 L159.3 282.8 L160.4 284.0 L161.5 285.3 L162.6 286.7 L163.7 288.2 L164.8 289.8 L165.9 291.6 L167.0 293.5 L168.1 295.6" stroke="#111" stroke-width="0.95" fill="none"/>
<path d="M59.5 437.4 L64.1 433.2 L68.8 429.0 L73.4 425.0 L78.0 421.1 L82.6 417.2 L87.3 413.5 L91.9 409.9 L96.5 406.3 L101.2 402.9 L105.8 399.5 L110.4 396.3 L115.0 393.1 L119.7 389.9 L124.3 386.9 L128.9 383.9 L133.6 381.0 L138.2 378.2 L142.8 375.4 L147.4 372.7 L152.1 370.1 L156.7 367.5 L161.3 365.0 L166.0 362.6 L170.6 360.2 L175.2 357.8 L179.9 355.6 L184.5 353.3 L189.1 351.2 L193.7 349.0M59.5 437.4 L63.7 433.3 L67.9 429.3 L72.1 425.3 L76.3 421.5 L80.5 417.8 L84.7 414.1 L88.9 410.6 L93.1 407.2 L97.3 403.8 L101.5 400.5 L105.7 397.3 L109.9 394.2 L114.1 391.2 L118.3 388.2 L122.5 385.3 L126.7 382.5 L130.9 379.7 L135.2 377.0 L139.4 374.4 L143.6 371.8 L147.8 369.3 L152.0 366.8 L156.2 364.4 L160.4 362.1 L164.6 359.8 L168.8 357.6 L173.0 355.4 L177.2 353.3 L181.4 351.2M59.5 437.4 L63.3 433.4 L67.0 429.4 L70.8 425.6 L74.6 421.8 L78.3 418.2 L82.1 414.6 L85.8 411.2 L89.6 407.8 L93.4 404.5 L97.1 401.3 L100.9 398.2 L104.7 395.1 L108.4 392.1 L112.2 389.2 L116.0 386.4 L119.7 383.6 L123.5 380.9 L127.2 378.2 L131.0 375.7 L134.8 373.1 L138.5 370.7 L142.3 368.2 L146.1 365.9 L149.8 363.6 L153.6 361.4 L157.4 359.2 L161.1 357.0 L164.9 354.9 L168.7 352.8M59.5 437.4 L62.8 433.6 L66.1 429.8 L69.4 426.2 L72.8 422.7 L76.1 419.2 L79.4 415.8 L82.7 412.5 L86.0 409.3 L89.3 406.2 L92.7 403.2 L96.0 400.2 L99.3 397.3 L102.6 394.4 L105.9 391.7 L109.2 389.0 L112.6 386.3 L115.9 383.7 L119.2 381.2 L122.5 378.8 L125.8 376.3 L129.1 374.0 L132.5 371.7 L135.8 369.4 L139.1 367.2 L142.4 365.1 L145.7 363.0 L149.0 360.9 L152.4 358.9 L155.7 356.9M59.5 437.4 L62.4 433.9 L65.2 430.4 L68.1 427.0 L71.0 423.7 L73.8 420.5 L76.7 417.3 L79.6 414.3 L82.4 411.3 L85.3 408.4 L88.1 405.5 L91.0 402.7 L93.9 400.0 L96.7 397.4 L99.6 394.8 L102.5 392.2 L105.3 389.8 L108.2 387.3 L111.1 385.0 L113.9 382.7 L116.8 380.4 L119.7 378.2 L122.5 376.0 L125.4 373.9 L128.2 371.8 L131.1 369.8 L134.0 367.8 L136.8 365.9 L139.7 363.9 L142.6 362.0M59.5 437.4 L61.9 434.3 L64.3 431.3 L66.7 428.3 L69.1 425.5 L71.5 422.7 L73.9 419.9 L76.3 417.2 L78.7 414.6 L81.1 412.1 L83.5 409.6 L85.9 407.2 L88.3 404.8 L90.7 402.5 L93.1 400.2 L95.5 398.0 L97.9 395.8 L100.3 393.7 L102.7 391.6 L105.1 389.5 L107.5 387.5 L109.9 385.5 L112.3 383.6 L114.7 381.7 L117.1 379.9 L119.5 378.1 L121.9 376.3 L124.3 374.6 L126.7 372.8 L129.1 371.1M59.5 437.4 L61.4 434.9 L63.4 432.4 L65.3 430.0 L67.2 427.6 L69.2 425.3 L71.1 423.1 L73.0 420.9 L74.9 418.7 L76.9 416.6 L78.8 414.6 L80.7 412.5 L82.7 410.6 L84.6 408.6 L86.5 406.8 L88.5 404.9 L90.4 403.1 L92.3 401.3 L94.2 399.6 L96.2 397.9 L98.1 396.2 L100.0 394.5 L102.0 392.9 L103.9 391.3 L105.8 389.8 L107.8 388.3 L109.7 386.8 L111.6 385.3 L113.5 383.8 L115.5 382.3M59.5 437.4 L60.5 436.3 L61.6 435.3 L62.6 434.2 L63.6 433.2 L64.7 432.2 L65.7 431.2 L66.7 430.2 L67.8 429.3 L68.8 428.3 L69.8 427.4 L70.9 426.5 L71.9 425.7 L73.0 424.8 L74.0 423.9 L75.0 423.1 L76.1 422.3 L77.1 421.5 L78.1 420.7 L79.2 419.9 L80.2 419.1 L81.2 418.3 L82.3 417.6 L83.3 416.8 L84.3 416.1 L85.4 415.4 L86.4 414.6 L87.4 413.9 L88.5 413.2 L89.5 412.4" stroke="#111" stroke-width="0.7" fill="none"/>
<path d="M193.7 349.0 L198.8 346.7 L203.9 344.4 L209.0 342.3 L214.1 340.1 L219.2 338.1 L224.3 336.1 L229.4 334.2 L234.5 332.3 L239.6 330.5 L244.7 328.8 L249.8 327.1 L254.9 325.5 L259.9 324.0 L265.0 322.5 L270.1 321.0 L275.2 319.6 L280.3 318.3 L285.4 317.0 L290.5 315.7 L295.6 314.5 L300.7 313.3 L305.8 312.2 L310.9 311.1 L316.0 310.1 L321.1 309.1 L326.2 308.1 L331.3 307.2 L336.3 306.4 L341.4 305.5 L346.5 304.7 L351.6 304.0 L356.7 303.3 L361.8 302.7 L366.9 302.1 L372.0 301.5 L377.1 301.1 L382.2 300.7 L387.3 300.3 L392.4 300.0 L397.5 299.7 L402.6 299.5 L407.7 299.3 L412.7 299.2 L417.8 299.1 L422.9 299.1 L428.0 299.1 L433.1 299.1 L438.2 299.2 L443.3 299.3 L448.4 299.5 L453.5 299.8 L458.6 300.1 L463.7 300.5 L468.8 300.9 L473.9 301.4 L479.0 302.0 L484.0 302.6 L489.1 303.3 L494.2 304.1 L499.3 305.0 L504.4 305.9 L509.5 307.0 L514.6 308.1 L519.7 309.3 L524.8 310.6 L529.9 312.0 L535.0 313.6 L540.1 315.3 L545.2 317.1M181.4 351.2 L186.0 348.9 L190.6 346.7 L195.3 344.5 L199.9 342.4 L204.5 340.4 L209.1 338.4 L213.8 336.5 L218.4 334.7 L223.0 332.9 L227.6 331.2 L232.3 329.6 L236.9 328.0 L241.5 326.4 L246.1 325.0 L250.8 323.5 L255.4 322.2 L260.0 320.8 L264.6 319.5 L269.2 318.3 L273.9 317.1 L278.5 315.9 L283.1 314.8 L287.7 313.7 L292.4 312.7 L297.0 311.7 L301.6 310.8 L306.2 309.9 L310.9 309.0 L315.5 308.2 L320.1 307.5 L324.7 306.7 L329.4 306.1 L334.0 305.4 L338.6 304.9 L343.2 304.3 L347.9 303.9 L352.5 303.5 L357.1 303.1 L361.7 302.8 L366.4 302.5 L371.0 302.3 L375.6 302.1 L380.2 302.0 L384.9 301.9 L389.5 301.8 L394.1 301.8 L398.7 301.9 L403.4 301.9 L408.0 302.1 L412.6 302.3 L417.2 302.5 L421.9 302.8 L426.5 303.2 L431.1 303.6 L435.7 304.1 L440.4 304.6 L445.0 305.3 L449.6 306.0 L454.2 306.7 L458.8 307.6 L463.5 308.5 L468.1 309.5 L472.7 310.6 L477.3 311.8 L482.0 313.1 L486.6 314.5 L491.2 316.0 L495.8 317.7 L500.5 319.5M168.7 352.8 L172.8 350.6 L176.9 348.4 L181.1 346.3 L185.2 344.2 L189.4 342.2 L193.5 340.3 L197.6 338.4 L201.8 336.6 L205.9 334.8 L210.1 333.1 L214.2 331.5 L218.3 329.9 L222.5 328.4 L226.6 326.9 L230.8 325.5 L234.9 324.1 L239.1 322.8 L243.2 321.5 L247.3 320.3 L251.5 319.1 L255.6 317.9 L259.8 316.8 L263.9 315.7 L268.0 314.7 L272.2 313.8 L276.3 312.9 L280.5 312.0 L284.6 311.1 L288.7 310.3 L292.9 309.6 L297.0 308.9 L301.2 308.2 L305.3 307.6 L309.5 307.0 L313.6 306.5 L317.7 306.1 L321.9 305.7 L326.0 305.3 L330.2 305.0 L334.3 304.8 L338.4 304.5 L342.6 304.3 L346.7 304.2 L350.9 304.1 L355.0 304.0 L359.2 304.0 L363.3 304.0 L367.4 304.1 L371.6 304.2 L375.7 304.4 L379.9 304.6 L384.0 304.9 L388.1 305.3 L392.3 305.7 L396.4 306.2 L400.6 306.7 L404.7 307.3 L408.8 308.0 L413.0 308.8 L417.1 309.6 L421.3 310.5 L425.4 311.5 L429.6 312.6 L433.7 313.8 L437.8 315.0 L442.0 316.4 L446.1 317.9 L450.3 319.5 L454.4 321.3M155.7 356.9 L159.3 354.7 L163.0 352.6 L166.6 350.5 L170.3 348.5 L173.9 346.6 L177.6 344.7 L181.2 342.9 L184.9 341.1 L188.5 339.4 L192.2 337.7 L195.8 336.1 L199.5 334.6 L203.1 333.1 L206.8 331.7 L210.4 330.3 L214.1 328.9 L217.7 327.6 L221.4 326.4 L225.0 325.2 L228.7 324.0 L232.3 322.8 L236.0 321.7 L239.6 320.7 L243.3 319.7 L246.9 318.8 L250.6 318.0 L254.2 317.1 L257.9 316.3 L261.5 315.5 L265.2 314.8 L268.8 314.1 L272.5 313.5 L276.1 312.9 L279.8 312.4 L283.4 311.9 L287.1 311.4 L290.7 311.0 L294.4 310.7 L298.0 310.4 L301.7 310.1 L305.3 309.9 L309.0 309.7 L312.6 309.5 L316.2 309.4 L319.9 309.4 L323.5 309.3 L327.2 309.3 L330.8 309.4 L334.5 309.5 L338.1 309.7 L341.8 309.9 L345.4 310.2 L349.1 310.5 L352.7 310.9 L356.4 311.3 L360.0 311.8 L363.7 312.4 L367.3 313.1 L371.0 313.8 L374.6 314.6 L378.3 315.5 L381.9 316.4 L385.6 317.5 L389.2 318.6 L392.9 319.8 L396.5 321.1 L400.2 322.6 L403.8 324.1 L407.5 325.9M142.6 362.0 L145.7 359.9 L148.9 357.9 L152.0 355.9 L155.2 354.0 L158.3 352.2 L161.5 350.4 L164.6 348.6 L167.8 346.9 L170.9 345.2 L174.1 343.6 L177.2 342.1 L180.4 340.6 L183.5 339.2 L186.7 337.8 L189.8 336.4 L193.0 335.1 L196.2 333.9 L199.3 332.6 L202.5 331.5 L205.6 330.3 L208.8 329.2 L211.9 328.1 L215.1 327.1 L218.2 326.2 L221.4 325.4 L224.5 324.5 L227.7 323.7 L230.8 323.0 L234.0 322.2 L237.1 321.6 L240.3 320.9 L243.4 320.3 L246.6 319.8 L249.7 319.3 L252.9 318.8 L256.0 318.4 L259.2 318.0 L262.3 317.7 L265.5 317.4 L268.6 317.1 L271.8 316.9 L274.9 316.7 L278.1 316.5 L281.2 316.4 L284.4 316.3 L287.6 316.2 L290.7 316.2 L293.9 316.2 L297.0 316.3 L300.2 316.5 L303.3 316.7 L306.5 316.9 L309.6 317.2 L312.8 317.6 L315.9 318.0 L319.1 318.5 L322.2 319.0 L325.4 319.7 L328.5 320.3 L331.7 321.1 L334.8 321.9 L338.0 322.8 L341.1 323.8 L344.3 324.9 L347.4 326.0 L350.6 327.3 L353.7 328.6 L356.9 330.1 L360.0 331.7M129.1 371.1 L131.7 369.2 L134.4 367.4 L137.0 365.6 L139.6 363.8 L142.3 362.1 L144.9 360.5 L147.6 358.8 L150.2 357.3 L152.8 355.7 L155.5 354.2 L158.1 352.8 L160.8 351.4 L163.4 350.1 L166.0 348.8 L168.7 347.5 L171.3 346.3 L174.0 345.1 L176.6 344.0 L179.2 342.8 L181.9 341.8 L184.5 340.7 L187.2 339.7 L189.8 338.8 L192.4 338.0 L195.1 337.2 L197.7 336.5 L200.4 335.8 L203.0 335.1 L205.6 334.4 L208.3 333.8 L210.9 333.3 L213.6 332.8 L216.2 332.3 L218.8 331.8 L221.5 331.3 L224.1 330.9 L226.8 330.6 L229.4 330.3 L232.0 330.0 L234.7 329.8 L237.3 329.5 L240.0 329.3 L242.6 329.1 L245.2 329.0 L247.9 328.8 L250.5 328.8 L253.2 328.7 L255.8 328.7 L258.4 328.8 L261.1 328.9 L263.7 329.1 L266.4 329.3 L269.0 329.5 L271.6 329.8 L274.3 330.2 L276.9 330.6 L279.6 331.1 L282.2 331.7 L284.8 332.3 L287.5 332.9 L290.1 333.7 L292.8 334.5 L295.4 335.4 L298.0 336.3 L300.7 337.3 L303.3 338.5 L306.0 339.7 L308.6 341.1 L311.2 342.5M115.5 382.3 L117.6 380.7 L119.7 379.1 L121.8 377.5 L124.0 376.0 L126.1 374.5 L128.2 373.1 L130.3 371.6 L132.5 370.2 L134.6 368.9 L136.7 367.6 L138.8 366.3 L141.0 365.1 L143.1 363.9 L145.2 362.7 L147.3 361.6 L149.5 360.5 L151.6 359.4 L153.7 358.4 L155.8 357.4 L157.9 356.4 L160.1 355.5 L162.2 354.6 L164.3 353.8 L166.4 353.1 L168.6 352.4 L170.7 351.8 L172.8 351.2 L174.9 350.6 L177.1 350.0 L179.2 349.5 L181.3 349.1 L183.4 348.6 L185.6 348.2 L187.7 347.8 L189.8 347.4 L191.9 347.1 L194.0 346.8 L196.2 346.5 L198.3 346.2 L200.4 346.0 L202.5 345.8 L204.7 345.5 L206.8 345.4 L208.9 345.2 L211.0 345.1 L213.2 345.0 L215.3 344.9 L217.4 344.9 L219.5 344.9 L221.7 345.0 L223.8 345.1 L225.9 345.2 L228.0 345.4 L230.1 345.7 L232.3 346.0 L234.4 346.3 L236.5 346.7 L238.6 347.2 L240.8 347.7 L242.9 348.3 L245.0 348.9 L247.1 349.6 L249.3 350.3 L251.4 351.1 L253.5 352.0 L255.6 353.0 L257.8 354.1 L259.9 355.2 L262.0 356.5M89.5 412.4 L90.6 411.6 L91.8 410.7 L92.9 409.9 L94.1 409.1 L95.2 408.3 L96.3 407.5 L97.5 406.7 L98.6 405.9 L99.8 405.2 L100.9 404.5 L102.0 403.7 L103.2 403.0 L104.3 402.3 L105.4 401.7 L106.6 401.0 L107.7 400.4 L108.9 399.8 L110.0 399.2 L111.1 398.6 L112.3 398.0 L113.4 397.5 L114.6 397.0 L115.7 396.6 L116.8 396.2 L118.0 395.9 L119.1 395.6 L120.3 395.3 L121.4 395.1 L122.5 394.8 L123.7 394.6 L124.8 394.4 L125.9 394.3 L127.1 394.1 L128.2 393.9 L129.4 393.8 L130.5 393.6 L131.6 393.5 L132.8 393.4 L133.9 393.3 L135.1 393.2 L136.2 393.1 L137.3 392.9 L138.5 392.8 L139.6 392.7 L140.7 392.7 L141.9 392.6 L143.0 392.6 L144.2 392.5 L145.3 392.5 L146.4 392.6 L147.6 392.6 L148.7 392.7 L149.9 392.8 L151.0 392.9 L152.1 393.0 L153.3 393.2 L154.4 393.4 L155.5 393.6 L156.7 393.9 L157.8 394.2 L159.0 394.5 L160.1 394.8 L161.2 395.2 L162.4 395.6 L163.5 396.0 L164.7 396.5 L165.8 397.0 L166.9 397.6 L168.1 398.2" stroke="#111" stroke-width="1.45" fill="none"/>
<rect x="58.6" y="0" width="536.1" height="0.8" fill="#8c8c8c"/>
<path d="M59.6 0V437.4" stroke="#787b80" stroke-width="1.7" fill="none"/>
<path d="M593.8 0V437.4" stroke="#646464" stroke-width="1.7" fill="none"/>
<path d="M55 437.4H598.3" stroke="#111" stroke-width="1.1" fill="none"/>
<path d="M55 404.13H59.5M55 370.47H59.5M55 336.81H59.5M55 303.14H59.5M55 269.48H59.5M55 235.81H59.5M55 202.14H59.5M55 168.48H59.5M55 134.81H59.5M55 101.15H59.5M55 67.48H59.5M593.7 404.13H598.3M593.7 370.47H598.3M593.7 336.81H598.3M593.7 303.14H598.3M593.7 269.48H598.3M593.7 235.81H598.3M593.7 202.14H598.3M593.7 168.48H598.3M593.7 134.81H598.3" stroke="#2a2a2a" stroke-width="0.9" fill="none"/>
<path d="M59.50 437.4V441.9M93.75 437.4V441.9M128.00 437.4V441.9M162.25 437.4V441.9M196.50 437.4V441.9M230.75 437.4V441.9M265.00 437.4V441.9M299.25 437.4V441.9M333.50 437.4V441.9M367.75 437.4V441.9M402.00 437.4V441.9M436.25 437.4V441.9M470.50 437.4V441.9M504.75 437.4V441.9M539.00 437.4V441.9M573.25 437.4V441.9" stroke="#777" stroke-width="1.1" fill="none"/>
<text x="50.5" y="442.1" text-anchor="end">0</text>
<text x="50.5" y="408.5" text-anchor="end">5</text>
<text x="50.5" y="374.8" text-anchor="end">10</text>
<text x="50.5" y="341.2" text-anchor="end">15</text>
<text x="50.5" y="307.5" text-anchor="end">20</text>
<text x="50.5" y="273.8" text-anchor="end">25</text>
<text x="50.5" y="240.2" text-anchor="end">30</text>
<text x="50.5" y="206.5" text-anchor="end">35</text>
<text x="50.5" y="172.8" text-anchor="end">40</text>
<text x="50.5" y="139.2" text-anchor="end">45</text>
<text x="50.5" y="105.5" text-anchor="end">50</text>
<text x="50.5" y="71.8" text-anchor="end">55</text>
<text x="601.6" y="441.8">0</text>
<text x="601.6" y="408.1">10</text>
<text x="601.6" y="374.4">20</text>
<text x="601.6" y="340.8">30</text>
<text x="601.6" y="307.1">40</text>
<text x="601.6" y="273.4">50</text>
<text x="601.6" y="239.8">60</text>
<text x="601.6" y="206.1">70</text>
<text x="601.6" y="172.4">80</text>
<text x="601.6" y="138.8">90</text>
<text x="58.9" y="453.35" text-anchor="middle">0</text>
<text x="93.2" y="453.35" text-anchor="middle">0,2</text>
<text x="127.4" y="453.35" text-anchor="middle">0,4</text>
<text x="161.7" y="453.35" text-anchor="middle">0,6</text>
<text x="195.9" y="453.35" text-anchor="middle">0,8</text>
<text x="230.2" y="453.35" text-anchor="middle">1,0</text>
<text x="264.4" y="453.35" text-anchor="middle">1,2</text>
<text x="298.6" y="453.35" text-anchor="middle">1,4</text>
<text x="332.9" y="453.35" text-anchor="middle">1,6</text>
<text x="367.1" y="453.35" text-anchor="middle">1,8</text>
<text x="401.4" y="453.35" text-anchor="middle">2,0</text>
<text x="435.6" y="453.35" text-anchor="middle">2,2</text>
<text x="469.9" y="453.35" text-anchor="middle">2,4</text>
<text x="504.1" y="453.35" text-anchor="middle">2,6</text>
<text x="548.8" y="453.3" textLength="35.2" lengthAdjust="spacingAndGlyphs">Q [м³/ч]</text>
<text x="35.8" y="9" text-anchor="middle">H</text>
<text x="36.3" y="22.6" text-anchor="middle">[м]</text>
<text x="617.5" y="9" text-anchor="middle">eta</text>
<text x="617.5" y="22.6" text-anchor="middle">[%]</text>
<text x="88.3" y="75.7">100 %</text>
<text x="88.3" y="141.1">90 %</text>
<text x="88.3" y="200.4">80 %</text>
<text x="88.3" y="255.0">70 %</text>
<text x="88.3" y="300.8">60 %</text>
<text x="88.3" y="341.7">50 %</text>
<text x="88.3" y="374.5">40 %</text>
<text x="88.3" y="417.1">21 %</text>
<rect x="467.5" y="0.2" width="126.2" height="18.4" fill="#fff" stroke="#8a8a8a" stroke-width="1"/>
<text x="471.6" y="14.3">Hydro Solo E CRE 1-6</text>
<path d="M59.5 589.3 L64.1 588.0 L68.8 586.7 L73.4 585.4 L78.0 584.1 L82.6 582.8 L87.3 581.4 L91.9 580.1 L96.5 578.8 L101.2 577.5 L105.8 576.1 L110.4 574.8 L115.0 573.5 L119.7 572.1 L124.3 570.8 L128.9 569.5 L133.6 568.2 L138.2 566.8 L142.8 565.5 L147.4 564.2 L152.1 562.9 L156.7 561.6 L161.3 560.3 L166.0 559.1 L170.6 557.8 L175.2 556.5 L179.9 555.3 L184.5 554.0 L189.1 552.8 L193.7 551.6 L192.7 554.5 L191.7 557.5 L190.6 560.4 L189.6 563.2 L188.6 566.0 L187.6 568.8 L186.5 571.6 L185.5 574.3 L184.5 576.9 L183.4 579.6 L182.4 582.2 L181.4 584.7 L180.3 587.3 L179.3 589.8 L178.2 592.3 L177.1 594.8 L176.1 597.2 L175.0 599.5 L174.0 601.9 L172.9 604.1 L171.8 606.4 L170.8 608.5 L169.7 610.7 L168.7 612.7 L167.6 614.8 L166.5 616.8 L165.4 618.8 L164.3 620.7 L163.2 622.6 L162.2 624.5 L161.1 626.3 L160.0 628.1 L158.9 629.8 L157.8 631.5 L156.8 633.2 L155.7 634.8 L154.6 636.5 L153.5 638.1 L152.4 639.7 L151.3 641.2 L150.2 642.7 L149.1 644.2 L148.0 645.7 L146.9 647.1 L145.8 648.5 L144.8 649.8 L143.7 651.1 L142.6 652.4 L141.4 653.7 L140.3 654.9 L139.2 656.1 L138.1 657.2 L136.9 658.3 L135.8 659.4 L134.7 660.4 L133.6 661.4 L132.5 662.4 L131.3 663.4 L130.2 664.3 L129.1 665.3 L127.9 666.2 L126.8 667.1 L125.7 667.9 L124.5 668.8 L123.4 669.6 L122.3 670.4 L121.1 671.2 L120.0 672.0 L118.9 672.7 L117.7 673.5 L116.6 674.2 L115.5 674.9 L113.3 676.2 L111.1 677.4 L109.0 678.5 L106.8 679.5 L104.7 680.5 L102.5 681.4 L100.3 682.3 L98.2 683.0 L96.0 683.7 L93.8 684.4 L91.7 684.9 L89.5 685.4 L89.5 685.4 L88.5 685.4 L87.4 685.4 L86.4 685.5 L85.4 685.5 L84.3 685.5 L83.3 685.5 L82.3 685.6 L81.2 685.6 L80.2 685.6 L79.2 685.7 L78.1 685.7 L77.1 685.7 L76.1 685.8 L75.0 685.8 L74.0 685.8 L73.0 685.9 L71.9 685.9 L70.9 685.9 L69.8 686.0 L68.8 686.0 L67.8 686.0 L66.7 686.1 L65.7 686.1 L64.7 686.1 L63.6 686.2 L62.6 686.2 L61.6 686.2 L60.5 686.3 L59.5 686.3Z" fill="#eff6fe"/>
<path d="M59.5 610.6 L64.1 609.5 L68.8 608.3 L73.4 607.2 L78.0 606.0 L82.6 604.8 L87.3 603.7 L91.9 602.5 L96.5 601.3 L101.2 600.1 L105.8 598.9 L110.4 597.7 L115.0 596.5 L119.7 595.3 L124.3 594.1 L128.9 592.8 L133.6 591.6 L138.2 590.4 L142.8 589.2 L147.4 588.0 L152.1 586.8 L156.7 585.6 L161.3 584.4 L166.0 583.2 L170.6 582.0 L175.2 580.9 L179.9 579.7 L184.5 578.5 L189.1 577.4 L193.7 576.3 L192.7 578.9 L191.7 581.5 L190.6 584.0 L189.6 586.5 L188.6 588.9 L187.6 591.3 L186.5 593.7 L185.5 596.1 L184.5 598.4 L183.4 600.6 L182.4 602.9 L181.4 605.0 L180.3 607.3 L179.3 609.4 L178.2 611.6 L177.1 613.7 L176.1 615.7 L175.0 617.8 L174.0 619.8 L172.9 621.7 L171.8 623.6 L170.8 625.5 L169.7 627.4 L168.7 629.2 L167.6 631.0 L166.5 632.8 L165.4 634.5 L164.3 636.2 L163.2 637.9 L162.2 639.5 L161.1 641.1 L160.0 642.7 L158.9 644.2 L157.8 645.7 L156.8 647.2 L155.7 648.6 L154.6 650.0 L153.5 651.4 L152.4 652.8 L151.3 654.1 L150.2 655.4 L149.1 656.6 L148.0 657.9 L146.9 659.1 L145.8 660.2 L144.8 661.4 L143.7 662.5 L142.6 663.6 L141.4 664.7 L140.3 665.7 L139.2 666.8 L138.1 667.8 L136.9 668.7 L135.8 669.7 L134.7 670.6 L133.6 671.5 L132.5 672.3 L131.3 673.2 L130.2 674.0 L129.1 674.8 L127.9 675.5 L126.8 676.3 L125.7 677.0 L124.5 677.7 L123.4 678.4 L122.3 679.0 L121.1 679.6 L120.0 680.2 L118.9 680.8 L117.7 681.4 L116.6 681.9 L115.5 682.4 L113.3 683.3 L111.1 684.2 L109.0 685.0 L106.8 685.7 L104.7 686.3 L102.5 686.9 L100.3 687.5 L98.2 688.0 L96.0 688.4 L93.8 688.8 L91.7 689.1 L89.5 689.4 L89.5 689.4 L88.5 689.4 L87.4 689.4 L86.4 689.5 L85.4 689.5 L84.3 689.5 L83.3 689.5 L82.3 689.5 L81.2 689.5 L80.2 689.5 L79.2 689.6 L78.1 689.6 L77.1 689.6 L76.1 689.6 L75.0 689.6 L74.0 689.6 L73.0 689.6 L71.9 689.6 L70.9 689.7 L69.8 689.7 L68.8 689.7 L67.8 689.7 L66.7 689.7 L65.7 689.7 L64.7 689.7 L63.6 689.8 L62.6 689.8 L61.6 689.8 L60.5 689.8 L59.5 689.8Z" fill="#eff6fe"/>
<path d="M193.7 551.6 L199.7 550.0 L205.7 548.5 L211.6 546.9 L217.6 545.4 L223.5 543.9 L229.5 542.4 L235.4 540.9 L241.4 539.4 L247.3 537.9 L253.3 536.4 L259.3 534.9 L265.2 533.4 L271.2 531.9 L277.1 530.4 L283.1 529.0 L289.0 527.6 L295.0 526.3 L301.0 525.0 L306.9 523.8 L312.9 522.6 L318.8 521.5 L324.8 520.4 L330.7 519.2 L336.7 518.1 L342.6 517.0 L348.6 515.9 L354.6 514.8 L360.5 513.7 L366.5 512.7 L372.4 511.8 L378.4 510.9 L384.3 510.0 L390.3 509.2 L396.3 508.5 L402.2 507.8 L408.2 507.2 L414.1 506.6 L420.1 506.1 L426.0 505.6 L432.0 505.2 L437.9 504.8 L443.9 504.4 L449.9 504.0 L455.8 503.7 L461.8 503.5 L467.7 503.2 L473.7 503.0 L479.6 502.9 L485.6 502.8 L491.6 502.8 L497.5 502.7 L503.5 502.7 L509.4 502.7 L515.4 502.8 L521.3 502.8 L527.3 502.9 L533.3 503.0 L539.2 503.1 L545.2 503.1 L541.4 507.2 L537.7 511.2 L534.0 515.1 L530.3 519.0 L526.5 522.8 L522.8 526.6 L519.1 530.3 L515.4 534.0 L511.6 537.6 L507.9 541.2 L504.2 544.7 L500.5 548.2 L496.6 551.7 L492.8 555.1 L489.0 558.5 L485.1 561.8 L481.3 565.1 L477.4 568.3 L473.6 571.4 L469.8 574.5 L465.9 577.5 L462.1 580.5 L458.2 583.4 L454.4 586.2 L450.5 589.0 L446.6 591.8 L442.7 594.5 L438.8 597.1 L434.9 599.7 L430.9 602.2 L427.0 604.6 L423.1 607.1 L419.2 609.4 L415.3 611.8 L411.4 614.0 L407.5 616.3 L403.5 618.5 L399.6 620.7 L395.6 622.8 L391.7 624.9 L387.7 627.0 L383.8 629.0 L379.8 631.0 L375.9 632.9 L371.9 634.8 L367.9 636.6 L364.0 638.4 L360.0 640.1 L356.0 641.8 L351.9 643.4 L347.8 645.1 L343.8 646.6 L339.7 648.1 L335.6 649.6 L331.6 651.0 L327.5 652.4 L323.4 653.7 L319.4 655.0 L315.3 656.3 L311.2 657.6 L307.1 658.8 L303.0 660.0 L298.9 661.2 L294.8 662.3 L290.7 663.4 L286.6 664.5 L282.5 665.6 L278.4 666.6 L274.3 667.6 L270.2 668.6 L266.1 669.6 L262.0 670.5 L254.2 672.2 L246.3 673.8 L238.5 675.2 L230.7 676.6 L222.9 677.9 L215.0 679.1 L207.2 680.2 L199.4 681.2 L191.6 682.1 L183.7 682.9 L175.9 683.6 L168.1 684.3 L168.1 684.3 L166.7 684.3 L165.4 684.3 L164.1 684.3 L162.7 684.3 L161.4 684.2 L160.1 684.2 L158.8 684.2 L157.4 684.2 L156.1 684.2 L154.8 684.2 L153.4 684.2 L152.1 684.2 L150.8 684.2 L149.4 684.2 L148.1 684.2 L146.8 684.2 L145.4 684.2 L144.1 684.2 L142.8 684.2 L141.4 684.2 L140.1 684.2 L138.8 684.2 L137.4 684.2 L136.1 684.2 L134.8 684.3 L133.5 684.3 L132.1 684.3 L130.8 684.3 L129.5 684.3 L128.1 684.4 L126.8 684.4 L125.5 684.4 L124.1 684.5 L122.8 684.5 L121.5 684.6 L120.1 684.6 L118.8 684.6 L117.5 684.7 L116.1 684.7 L114.8 684.8 L113.5 684.8 L112.1 684.8 L110.8 684.9 L109.5 684.9 L108.2 684.9 L106.8 684.9 L105.5 685.0 L104.2 685.0 L102.8 685.0 L101.5 685.1 L100.2 685.1 L98.8 685.1 L97.5 685.2 L96.2 685.2 L94.8 685.2 L93.5 685.3 L92.2 685.3 L90.8 685.4 L89.5 685.4 L89.5 685.4 L91.7 684.9 L93.8 684.4 L96.0 683.7 L98.2 683.0 L100.3 682.3 L102.5 681.4 L104.7 680.5 L106.8 679.5 L109.0 678.5 L111.1 677.4 L113.3 676.2 L115.5 674.9 L116.6 674.2 L117.7 673.5 L118.9 672.7 L120.0 672.0 L121.1 671.2 L122.3 670.4 L123.4 669.6 L124.5 668.8 L125.7 667.9 L126.8 667.1 L127.9 666.2 L129.1 665.3 L130.2 664.3 L131.3 663.4 L132.5 662.4 L133.6 661.4 L134.7 660.4 L135.8 659.4 L136.9 658.3 L138.1 657.2 L139.2 656.1 L140.3 654.9 L141.4 653.7 L142.6 652.4 L143.7 651.1 L144.8 649.8 L145.8 648.5 L146.9 647.1 L148.0 645.7 L149.1 644.2 L150.2 642.7 L151.3 641.2 L152.4 639.7 L153.5 638.1 L154.6 636.5 L155.7 634.8 L156.8 633.2 L157.8 631.5 L158.9 629.8 L160.0 628.1 L161.1 626.3 L162.2 624.5 L163.2 622.6 L164.3 620.7 L165.4 618.8 L166.5 616.8 L167.6 614.8 L168.7 612.7 L169.7 610.7 L170.8 608.5 L171.8 606.4 L172.9 604.1 L174.0 601.9 L175.0 599.5 L176.1 597.2 L177.1 594.8 L178.2 592.3 L179.3 589.8 L180.3 587.3 L181.4 584.7 L182.4 582.2 L183.4 579.6 L184.5 576.9 L185.5 574.3 L186.5 571.6 L187.6 568.8 L188.6 566.0 L189.6 563.2 L190.6 560.4 L191.7 557.5 L192.7 554.5 L193.7 551.6Z" fill="#d0dce8"/>
<path d="M193.7 576.3 L199.7 574.8 L205.7 573.4 L211.6 572.0 L217.6 570.6 L223.5 569.2 L229.5 567.8 L235.4 566.4 L241.4 565.0 L247.3 563.6 L253.3 562.2 L259.3 560.8 L265.2 559.4 L271.2 558.0 L277.1 556.7 L283.1 555.3 L289.0 554.1 L295.0 552.9 L301.0 551.7 L306.9 550.6 L312.9 549.6 L318.8 548.6 L324.8 547.7 L330.7 546.7 L336.7 545.8 L342.6 544.8 L348.6 543.9 L354.6 543.0 L360.5 542.1 L366.5 541.2 L372.4 540.4 L378.4 539.6 L384.3 538.9 L390.3 538.1 L396.3 537.5 L402.2 536.8 L408.2 536.2 L414.1 535.6 L420.1 535.0 L426.0 534.5 L432.0 534.0 L437.9 533.6 L443.9 533.2 L449.9 532.8 L455.8 532.5 L461.8 532.2 L467.7 531.9 L473.7 531.7 L479.6 531.6 L485.6 531.5 L491.6 531.4 L497.5 531.4 L503.5 531.3 L509.4 531.3 L515.4 531.4 L521.3 531.4 L527.3 531.5 L533.3 531.5 L539.2 531.6 L545.2 531.7 L541.4 535.3 L537.7 538.9 L534.0 542.4 L530.3 545.9 L526.5 549.3 L522.8 552.6 L519.1 555.9 L515.4 559.2 L511.6 562.4 L507.9 565.5 L504.2 568.6 L500.5 571.7 L496.6 574.7 L492.8 577.8 L489.0 580.7 L485.1 583.7 L481.3 586.5 L477.4 589.4 L473.6 592.1 L469.8 594.8 L465.9 597.5 L462.1 600.1 L458.2 602.7 L454.4 605.2 L450.5 607.7 L446.6 610.2 L442.7 612.6 L438.8 615.0 L434.9 617.3 L430.9 619.6 L427.0 621.8 L423.1 624.0 L419.2 626.1 L415.3 628.2 L411.4 630.2 L407.5 632.2 L403.5 634.2 L399.6 636.1 L395.6 638.0 L391.7 639.8 L387.7 641.6 L383.8 643.4 L379.8 645.1 L375.9 646.7 L371.9 648.4 L367.9 650.0 L364.0 651.5 L360.0 653.0 L356.0 654.5 L351.9 656.0 L347.8 657.4 L343.8 658.8 L339.7 660.2 L335.6 661.5 L331.6 662.7 L327.5 664.0 L323.4 665.2 L319.4 666.3 L315.3 667.5 L311.2 668.6 L307.1 669.6 L303.0 670.6 L298.9 671.6 L294.8 672.6 L290.7 673.5 L286.6 674.4 L282.5 675.3 L278.4 676.1 L274.3 676.9 L270.2 677.7 L266.1 678.5 L262.0 679.2 L254.2 680.5 L246.3 681.6 L238.5 682.7 L230.7 683.7 L222.9 684.6 L215.0 685.5 L207.2 686.2 L199.4 686.9 L191.6 687.5 L183.7 688.0 L175.9 688.5 L168.1 688.9 L168.1 688.9 L166.7 688.9 L165.4 688.9 L164.1 688.9 L162.7 688.9 L161.4 688.9 L160.1 688.9 L158.8 688.9 L157.4 688.9 L156.1 688.9 L154.8 688.9 L153.4 688.9 L152.1 688.9 L150.8 688.9 L149.4 688.9 L148.1 688.9 L146.8 688.9 L145.4 688.9 L144.1 688.9 L142.8 688.9 L141.4 689.0 L140.1 689.0 L138.8 689.0 L137.4 689.0 L136.1 689.0 L134.8 689.0 L133.5 689.0 L132.1 689.0 L130.8 689.0 L129.5 689.0 L128.1 689.0 L126.8 689.0 L125.5 689.0 L124.1 689.1 L122.8 689.1 L121.5 689.1 L120.1 689.1 L118.8 689.1 L117.5 689.1 L116.1 689.1 L114.8 689.1 L113.5 689.1 L112.1 689.2 L110.8 689.2 L109.5 689.2 L108.2 689.2 L106.8 689.2 L105.5 689.2 L104.2 689.2 L102.8 689.3 L101.5 689.3 L100.2 689.3 L98.8 689.3 L97.5 689.3 L96.2 689.3 L94.8 689.4 L93.5 689.4 L92.2 689.4 L90.8 689.4 L89.5 689.4 L89.5 689.4 L91.7 689.1 L93.8 688.8 L96.0 688.4 L98.2 688.0 L100.3 687.5 L102.5 686.9 L104.7 686.3 L106.8 685.7 L109.0 685.0 L111.1 684.2 L113.3 683.3 L115.5 682.4 L116.6 681.9 L117.7 681.4 L118.9 680.8 L120.0 680.2 L121.1 679.6 L122.3 679.0 L123.4 678.4 L124.5 677.7 L125.7 677.0 L126.8 676.3 L127.9 675.5 L129.1 674.8 L130.2 674.0 L131.3 673.2 L132.5 672.3 L133.6 671.5 L134.7 670.6 L135.8 669.7 L136.9 668.7 L138.1 667.8 L139.2 666.8 L140.3 665.7 L141.4 664.7 L142.6 663.6 L143.7 662.5 L144.8 661.4 L145.8 660.2 L146.9 659.1 L148.0 657.9 L149.1 656.6 L150.2 655.4 L151.3 654.1 L152.4 652.8 L153.5 651.4 L154.6 650.0 L155.7 648.6 L156.8 647.2 L157.8 645.7 L158.9 644.2 L160.0 642.7 L161.1 641.1 L162.2 639.5 L163.2 637.9 L164.3 636.2 L165.4 634.5 L166.5 632.8 L167.6 631.0 L168.7 629.2 L169.7 627.4 L170.8 625.5 L171.8 623.6 L172.9 621.7 L174.0 619.8 L175.0 617.8 L176.1 615.7 L177.1 613.7 L178.2 611.6 L179.3 609.4 L180.3 607.3 L181.4 605.0 L182.4 602.9 L183.4 600.6 L184.5 598.4 L185.5 596.1 L186.5 593.7 L187.6 591.3 L188.6 588.9 L189.6 586.5 L190.6 584.0 L191.7 581.5 L192.7 578.9 L193.7 576.3Z" fill="#d0dce8"/>
<path d="M93.75 458.4V690.7M128.00 458.4V690.7M162.25 458.4V690.7M196.50 458.4V690.7M230.75 458.4V690.7M265.00 458.4V690.7M299.25 458.4V690.7M333.50 458.4V690.7M367.75 458.4V690.7M402.00 458.4V690.7M436.25 458.4V690.7M470.50 458.4V690.7M504.75 458.4V690.7M539.00 458.4V690.7M573.25 458.4V690.7M59.5 657.50H593.7M59.5 624.30H593.7M59.5 591.10H593.7M59.5 557.90H593.7M59.5 524.70H593.7M59.5 491.50H593.7" stroke="#d0d2d4" stroke-width="1" fill="none"/>
<path d="M59.5 589.3 L64.1 588.0 L68.8 586.7 L73.4 585.4 L78.0 584.1 L82.6 582.8 L87.3 581.4 L91.9 580.1 L96.5 578.8 L101.2 577.5 L105.8 576.1 L110.4 574.8 L115.0 573.5 L119.7 572.1 L124.3 570.8 L128.9 569.5 L133.6 568.2 L138.2 566.8 L142.8 565.5 L147.4 564.2 L152.1 562.9 L156.7 561.6 L161.3 560.3 L166.0 559.1 L170.6 557.8 L175.2 556.5 L179.9 555.3 L184.5 554.0 L189.1 552.8 L193.7 551.6M59.5 613.2 L63.7 612.2 L67.9 611.2 L72.1 610.2 L76.3 609.2 L80.5 608.2 L84.7 607.2 L88.9 606.2 L93.1 605.2 L97.3 604.2 L101.5 603.2 L105.7 602.2 L109.9 601.2 L114.1 600.2 L118.3 599.2 L122.5 598.2 L126.7 597.2 L130.9 596.2 L135.2 595.2 L139.4 594.2 L143.6 593.3 L147.8 592.3 L152.0 591.3 L156.2 590.3 L160.4 589.4 L164.6 588.4 L168.8 587.5 L173.0 586.6 L177.2 585.6 L181.4 584.7M59.5 633.5 L63.3 632.7 L67.0 632.0 L70.8 631.3 L74.6 630.6 L78.3 629.8 L82.1 629.1 L85.8 628.4 L89.6 627.6 L93.4 626.9 L97.1 626.2 L100.9 625.5 L104.7 624.7 L108.4 624.0 L112.2 623.3 L116.0 622.5 L119.7 621.8 L123.5 621.1 L127.2 620.4 L131.0 619.7 L134.8 618.9 L138.5 618.2 L142.3 617.5 L146.1 616.8 L149.8 616.1 L153.6 615.4 L157.4 614.8 L161.1 614.1 L164.9 613.4 L168.7 612.7M59.5 649.4 L62.8 648.8 L66.1 648.3 L69.4 647.8 L72.8 647.3 L76.1 646.8 L79.4 646.3 L82.7 645.8 L86.0 645.3 L89.3 644.7 L92.7 644.2 L96.0 643.7 L99.3 643.2 L102.6 642.7 L105.9 642.2 L109.2 641.7 L112.6 641.2 L115.9 640.7 L119.2 640.2 L122.5 639.7 L125.8 639.2 L129.1 638.7 L132.5 638.2 L135.8 637.7 L139.1 637.2 L142.4 636.7 L145.7 636.2 L149.0 635.8 L152.4 635.3 L155.7 634.8M59.5 662.1 L62.4 661.7 L65.2 661.4 L68.1 661.0 L71.0 660.7 L73.8 660.3 L76.7 660.0 L79.6 659.7 L82.4 659.3 L85.3 659.0 L88.1 658.6 L91.0 658.3 L93.9 657.9 L96.7 657.6 L99.6 657.3 L102.5 656.9 L105.3 656.6 L108.2 656.3 L111.1 655.9 L113.9 655.6 L116.8 655.3 L119.7 654.9 L122.5 654.6 L125.4 654.3 L128.2 654.0 L131.1 653.6 L134.0 653.3 L136.8 653.0 L139.7 652.7 L142.6 652.4M59.5 671.3 L61.9 671.1 L64.3 670.9 L66.7 670.7 L69.1 670.5 L71.5 670.2 L73.9 670.0 L76.3 669.8 L78.7 669.6 L81.1 669.4 L83.5 669.2 L85.9 668.9 L88.3 668.7 L90.7 668.5 L93.1 668.3 L95.5 668.1 L97.9 667.9 L100.3 667.7 L102.7 667.5 L105.1 667.2 L107.5 667.0 L109.9 666.8 L112.3 666.6 L114.7 666.4 L117.1 666.2 L119.5 666.0 L121.9 665.8 L124.3 665.6 L126.7 665.5 L129.1 665.3M59.5 678.4 L61.4 678.3 L63.4 678.1 L65.3 678.0 L67.2 677.9 L69.2 677.8 L71.1 677.6 L73.0 677.5 L74.9 677.4 L76.9 677.2 L78.8 677.1 L80.7 677.0 L82.7 676.9 L84.6 676.7 L86.5 676.6 L88.5 676.5 L90.4 676.4 L92.3 676.3 L94.2 676.1 L96.2 676.0 L98.1 675.9 L100.0 675.8 L102.0 675.7 L103.9 675.6 L105.8 675.4 L107.8 675.3 L109.7 675.2 L111.6 675.1 L113.5 675.0 L115.5 674.9M59.5 686.3 L60.5 686.3 L61.6 686.2 L62.6 686.2 L63.6 686.2 L64.7 686.1 L65.7 686.1 L66.7 686.1 L67.8 686.0 L68.8 686.0 L69.8 686.0 L70.9 685.9 L71.9 685.9 L73.0 685.9 L74.0 685.8 L75.0 685.8 L76.1 685.8 L77.1 685.7 L78.1 685.7 L79.2 685.7 L80.2 685.6 L81.2 685.6 L82.3 685.6 L83.3 685.5 L84.3 685.5 L85.4 685.5 L86.4 685.5 L87.4 685.4 L88.5 685.4 L89.5 685.4M59.5 610.6 L65.0 609.3 L70.4 607.9 L75.9 606.6 L81.3 605.2 L86.8 603.8 L92.2 602.4 L97.7 601.0 L103.2 599.6 L108.6 598.2 L114.1 596.7 L119.5 595.3 L125.0 593.9 L130.4 592.5 L135.9 591.0 L141.4 589.6 L146.8 588.2 L152.3 586.8 L157.7 585.3 L163.2 583.9 L168.6 582.5 L174.1 581.2 L179.6 579.8 L185.0 578.4 L190.5 577.1 L195.9 575.7 L201.4 574.4 L206.8 573.1 L212.3 571.8 L217.8 570.5 L223.2 569.3 L228.7 568.0 L234.1 566.7 L239.6 565.4 L245.0 564.1 L250.5 562.9 L255.9 561.6 L261.4 560.3 L266.9 559.0 L272.3 557.7 L277.8 556.5 L283.2 555.3 L288.7 554.1 L294.1 553.0 L299.6 552.0 L305.1 550.9 L310.5 550.0 L316.0 549.1 L321.4 548.2 L326.9 547.3 L332.3 546.5 L337.8 545.6 L343.3 544.7 L348.7 543.9 L354.2 543.1 L359.6 542.2 L365.1 541.4 L370.5 540.7 L376.0 539.9 L381.5 539.2 L386.9 538.5 L392.4 537.9 L397.8 537.3 L403.3 536.7 L408.7 536.1 L414.2 535.6 L419.7 535.1 L425.1 534.6 L430.6 534.1 L436.0 533.7 L441.5 533.3 L446.9 533.0 L452.4 532.6 L457.9 532.4 L463.3 532.1 L468.8 531.9 L474.2 531.7 L479.7 531.6 L485.1 531.5 L490.6 531.4 L496.1 531.4 L501.5 531.3 L507.0 531.3 L512.4 531.4 L517.9 531.4 L523.3 531.4 L528.8 531.5 L534.3 531.6 L539.7 531.6 L545.2 531.7M59.5 630.7 L64.5 629.7 L69.4 628.7 L74.4 627.7 L79.3 626.7 L84.3 625.6 L89.2 624.6 L94.2 623.6 L99.1 622.5 L104.1 621.4 L109.0 620.4 L114.0 619.3 L119.0 618.2 L123.9 617.2 L128.9 616.1 L133.8 615.0 L138.8 614.0 L143.7 612.9 L148.7 611.8 L153.6 610.8 L158.6 609.7 L163.5 608.7 L168.5 607.7 L173.5 606.6 L178.4 605.6 L183.4 604.6 L188.3 603.7 L193.3 602.7 L198.2 601.7 L203.2 600.8 L208.1 599.8 L213.1 598.8 L218.1 597.9 L223.0 596.9 L228.0 596.0 L232.9 595.0 L237.9 594.0 L242.8 593.1 L247.8 592.1 L252.7 591.2 L257.7 590.3 L262.6 589.4 L267.6 588.5 L272.6 587.6 L277.5 586.8 L282.5 586.1 L287.4 585.4 L292.4 584.7 L297.3 584.0 L302.3 583.4 L307.2 582.7 L312.2 582.1 L317.1 581.5 L322.1 580.8 L327.1 580.2 L332.0 579.6 L337.0 579.0 L341.9 578.4 L346.9 577.8 L351.8 577.3 L356.8 576.8 L361.7 576.3 L366.7 575.9 L371.6 575.4 L376.6 575.0 L381.6 574.6 L386.5 574.2 L391.5 573.8 L396.4 573.5 L401.4 573.2 L406.3 572.9 L411.3 572.6 L416.2 572.4 L421.2 572.2 L426.1 572.0 L431.1 571.8 L436.1 571.7 L441.0 571.6 L446.0 571.5 L450.9 571.5 L455.9 571.4 L460.8 571.4 L465.8 571.4 L470.7 571.4 L475.7 571.5 L480.6 571.5 L485.6 571.5 L490.6 571.6 L495.5 571.6 L500.5 571.7M59.5 647.6 L63.9 646.9 L68.4 646.2 L72.8 645.5 L77.2 644.7 L81.7 644.0 L86.1 643.2 L90.6 642.5 L95.0 641.7 L99.4 641.0 L103.9 640.2 L108.3 639.4 L112.7 638.7 L117.2 637.9 L121.6 637.1 L126.1 636.3 L130.5 635.6 L134.9 634.8 L139.4 634.1 L143.8 633.3 L148.2 632.6 L152.7 631.8 L157.1 631.1 L161.6 630.3 L166.0 629.6 L170.4 628.9 L174.9 628.2 L179.3 627.5 L183.7 626.8 L188.2 626.1 L192.6 625.4 L197.1 624.7 L201.5 624.0 L205.9 623.4 L210.4 622.7 L214.8 622.0 L219.2 621.3 L223.7 620.6 L228.1 619.9 L232.5 619.2 L237.0 618.6 L241.4 617.9 L245.9 617.3 L250.3 616.7 L254.7 616.1 L259.2 615.6 L263.6 615.1 L268.0 614.6 L272.5 614.1 L276.9 613.6 L281.4 613.2 L285.8 612.7 L290.2 612.2 L294.7 611.8 L299.1 611.3 L303.5 610.9 L308.0 610.5 L312.4 610.0 L316.9 609.7 L321.3 609.3 L325.7 608.9 L330.2 608.6 L334.6 608.2 L339.0 607.9 L343.5 607.6 L347.9 607.3 L352.3 607.0 L356.8 606.8 L361.2 606.5 L365.7 606.3 L370.1 606.1 L374.5 605.9 L379.0 605.7 L383.4 605.6 L387.8 605.4 L392.3 605.3 L396.7 605.2 L401.2 605.2 L405.6 605.1 L410.0 605.1 L414.5 605.0 L418.9 605.0 L423.3 605.0 L427.8 605.0 L432.2 605.1 L436.7 605.1 L441.1 605.1 L445.5 605.1 L450.0 605.2 L454.4 605.2M59.5 661.2 L63.4 660.7 L67.3 660.2 L71.2 659.7 L75.1 659.2 L79.0 658.7 L83.0 658.2 L86.9 657.7 L90.8 657.2 L94.7 656.7 L98.6 656.1 L102.5 655.6 L106.4 655.1 L110.3 654.6 L114.2 654.0 L118.1 653.5 L122.1 653.0 L126.0 652.5 L129.9 651.9 L133.8 651.4 L137.7 650.9 L141.6 650.4 L145.5 649.9 L149.4 649.4 L153.3 648.9 L157.2 648.4 L161.2 647.9 L165.1 647.4 L169.0 647.0 L172.9 646.5 L176.8 646.0 L180.7 645.6 L184.6 645.1 L188.5 644.6 L192.4 644.1 L196.3 643.7 L200.3 643.2 L204.2 642.7 L208.1 642.3 L212.0 641.8 L215.9 641.3 L219.8 640.9 L223.7 640.5 L227.6 640.1 L231.5 639.7 L235.4 639.3 L239.4 638.9 L243.3 638.6 L247.2 638.3 L251.1 638.0 L255.0 637.6 L258.9 637.3 L262.8 637.0 L266.7 636.7 L270.6 636.4 L274.5 636.1 L278.5 635.8 L282.4 635.5 L286.3 635.2 L290.2 635.0 L294.1 634.7 L298.0 634.5 L301.9 634.3 L305.8 634.0 L309.7 633.8 L313.6 633.6 L317.6 633.5 L321.5 633.3 L325.4 633.1 L329.3 633.0 L333.2 632.8 L337.1 632.7 L341.0 632.6 L344.9 632.5 L348.8 632.4 L352.7 632.3 L356.7 632.2 L360.6 632.2 L364.5 632.1 L368.4 632.1 L372.3 632.1 L376.2 632.1 L380.1 632.1 L384.0 632.1 L387.9 632.1 L391.8 632.1 L395.8 632.1 L399.7 632.2 L403.6 632.2 L407.5 632.2M59.5 671.7 L62.9 671.4 L66.3 671.1 L69.6 670.8 L73.0 670.4 L76.4 670.1 L79.8 669.8 L83.1 669.4 L86.5 669.1 L89.9 668.8 L93.3 668.4 L96.6 668.1 L100.0 667.8 L103.4 667.4 L106.8 667.1 L110.2 666.7 L113.5 666.4 L116.9 666.1 L120.3 665.7 L123.7 665.4 L127.0 665.1 L130.4 664.7 L133.8 664.4 L137.2 664.1 L140.5 663.8 L143.9 663.5 L147.3 663.1 L150.7 662.8 L154.1 662.5 L157.4 662.2 L160.8 661.9 L164.2 661.6 L167.6 661.3 L170.9 661.0 L174.3 660.7 L177.7 660.4 L181.1 660.1 L184.4 659.8 L187.8 659.5 L191.2 659.2 L194.6 658.9 L198.0 658.6 L201.3 658.3 L204.7 658.1 L208.1 657.8 L211.5 657.6 L214.8 657.4 L218.2 657.1 L221.6 656.9 L225.0 656.7 L228.3 656.5 L231.7 656.3 L235.1 656.1 L238.5 655.9 L241.9 655.7 L245.2 655.5 L248.6 655.3 L252.0 655.1 L255.4 655.0 L258.7 654.8 L262.1 654.6 L265.5 654.5 L268.9 654.3 L272.2 654.2 L275.6 654.1 L279.0 653.9 L282.4 653.8 L285.8 653.7 L289.1 653.6 L292.5 653.5 L295.9 653.4 L299.3 653.3 L302.6 653.2 L306.0 653.2 L309.4 653.1 L312.8 653.1 L316.1 653.0 L319.5 653.0 L322.9 653.0 L326.3 653.0 L329.7 652.9 L333.0 652.9 L336.4 652.9 L339.8 652.9 L343.2 652.9 L346.5 653.0 L349.9 653.0 L353.3 653.0 L356.7 653.0 L360.0 653.0M59.5 679.5 L62.3 679.4 L65.2 679.2 L68.0 679.0 L70.8 678.8 L73.6 678.6 L76.5 678.4 L79.3 678.2 L82.1 678.0 L85.0 677.8 L87.8 677.6 L90.6 677.4 L93.4 677.2 L96.3 677.0 L99.1 676.8 L101.9 676.6 L104.8 676.4 L107.6 676.2 L110.4 676.0 L113.2 675.8 L116.1 675.6 L118.9 675.4 L121.7 675.3 L124.6 675.1 L127.4 674.9 L130.2 674.7 L133.0 674.5 L135.9 674.3 L138.7 674.1 L141.5 674.0 L144.4 673.8 L147.2 673.6 L150.0 673.4 L152.8 673.3 L155.7 673.1 L158.5 672.9 L161.3 672.7 L164.2 672.5 L167.0 672.4 L169.8 672.2 L172.6 672.0 L175.5 671.8 L178.3 671.7 L181.1 671.5 L184.0 671.4 L186.8 671.2 L189.6 671.1 L192.4 671.0 L195.3 670.9 L198.1 670.7 L200.9 670.6 L203.8 670.5 L206.6 670.4 L209.4 670.3 L212.2 670.1 L215.1 670.0 L217.9 669.9 L220.7 669.8 L223.6 669.7 L226.4 669.6 L229.2 669.5 L232.0 669.4 L234.9 669.3 L237.7 669.3 L240.5 669.2 L243.4 669.1 L246.2 669.0 L249.0 669.0 L251.8 668.9 L254.7 668.8 L257.5 668.8 L260.3 668.7 L263.2 668.7 L266.0 668.6 L268.8 668.6 L271.6 668.6 L274.5 668.6 L277.3 668.5 L280.1 668.5 L283.0 668.5 L285.8 668.5 L288.6 668.5 L291.4 668.5 L294.3 668.5 L297.1 668.5 L299.9 668.5 L302.8 668.5 L305.6 668.5 L308.4 668.5 L311.2 668.6M59.5 684.9 L61.8 684.8 L64.1 684.7 L66.3 684.6 L68.6 684.5 L70.9 684.4 L73.2 684.3 L75.4 684.2 L77.7 684.1 L80.0 684.0 L82.3 683.9 L84.5 683.8 L86.8 683.7 L89.1 683.6 L91.4 683.5 L93.6 683.4 L95.9 683.3 L98.2 683.2 L100.5 683.1 L102.7 683.0 L105.0 682.9 L107.3 682.8 L109.6 682.7 L111.8 682.6 L114.1 682.5 L116.4 682.4 L118.7 682.3 L120.9 682.2 L123.2 682.1 L125.5 682.0 L127.8 681.9 L130.0 681.8 L132.3 681.7 L134.6 681.6 L136.9 681.5 L139.1 681.4 L141.4 681.3 L143.7 681.2 L146.0 681.2 L148.2 681.1 L150.5 681.0 L152.8 680.9 L155.1 680.8 L157.3 680.7 L159.6 680.6 L161.9 680.6 L164.2 680.5 L166.4 680.4 L168.7 680.4 L171.0 680.3 L173.3 680.2 L175.5 680.2 L177.8 680.1 L180.1 680.1 L182.4 680.0 L184.6 679.9 L186.9 679.9 L189.2 679.8 L191.5 679.8 L193.7 679.7 L196.0 679.7 L198.3 679.6 L200.6 679.6 L202.8 679.5 L205.1 679.5 L207.4 679.5 L209.7 679.4 L211.9 679.4 L214.2 679.4 L216.5 679.3 L218.8 679.3 L221.0 679.3 L223.3 679.2 L225.6 679.2 L227.9 679.2 L230.1 679.2 L232.4 679.2 L234.7 679.2 L237.0 679.2 L239.2 679.2 L241.5 679.1 L243.8 679.1 L246.1 679.1 L248.4 679.1 L250.6 679.2 L252.9 679.2 L255.2 679.2 L257.5 679.2 L259.7 679.2 L262.0 679.2M59.5 689.8 L60.7 689.8 L61.9 689.8 L63.2 689.8 L64.4 689.7 L65.6 689.7 L66.8 689.7 L68.0 689.7 L69.3 689.7 L70.5 689.7 L71.7 689.7 L72.9 689.6 L74.1 689.6 L75.4 689.6 L76.6 689.6 L77.8 689.6 L79.0 689.6 L80.2 689.5 L81.5 689.5 L82.7 689.5 L83.9 689.5 L85.1 689.5 L86.3 689.5 L87.6 689.4 L88.8 689.4 L90.0 689.4 L91.2 689.4 L92.4 689.4 L93.7 689.4 L94.9 689.4 L96.1 689.3 L97.3 689.3 L98.5 689.3 L99.8 689.3 L101.0 689.3 L102.2 689.3 L103.4 689.3 L104.6 689.2 L105.9 689.2 L107.1 689.2 L108.3 689.2 L109.5 689.2 L110.7 689.2 L112.0 689.2 L113.2 689.1 L114.4 689.1 L115.6 689.1 L116.8 689.1 L118.1 689.1 L119.3 689.1 L120.5 689.1 L121.7 689.1 L122.9 689.1 L124.2 689.1 L125.4 689.1 L126.6 689.0 L127.8 689.0 L129.0 689.0 L130.3 689.0 L131.5 689.0 L132.7 689.0 L133.9 689.0 L135.1 689.0 L136.4 689.0 L137.6 689.0 L138.8 689.0 L140.0 689.0 L141.2 689.0 L142.5 689.0 L143.7 688.9 L144.9 688.9 L146.1 688.9 L147.3 688.9 L148.6 688.9 L149.8 688.9 L151.0 688.9 L152.2 688.9 L153.4 688.9 L154.7 688.9 L155.9 688.9 L157.1 688.9 L158.3 688.9 L159.5 688.9 L160.8 688.9 L162.0 688.9 L163.2 688.9 L164.4 688.9 L165.6 688.9 L166.9 688.9 L168.1 688.9" stroke="#1c4f8e" stroke-width="0.65" fill="none"/>
<path d="M193.7 551.6 L198.8 550.2 L203.9 548.9 L209.0 547.6 L214.1 546.3 L219.2 545.0 L224.3 543.7 L229.4 542.4 L234.5 541.1 L239.6 539.9 L244.7 538.6 L249.8 537.3 L254.9 536.0 L259.9 534.7 L265.0 533.4 L270.1 532.1 L275.2 530.9 L280.3 529.7 L285.4 528.5 L290.5 527.3 L295.6 526.2 L300.7 525.1 L305.8 524.0 L310.9 523.0 L316.0 522.0 L321.1 521.1 L326.2 520.1 L331.3 519.2 L336.3 518.2 L341.4 517.2 L346.5 516.3 L351.6 515.3 L356.7 514.4 L361.8 513.5 L366.9 512.7 L372.0 511.9 L377.1 511.1 L382.2 510.3 L387.3 509.6 L392.4 509.0 L397.5 508.4 L402.6 507.8 L407.7 507.3 L412.7 506.8 L417.8 506.3 L422.9 505.9 L428.0 505.5 L433.1 505.1 L438.2 504.7 L443.3 504.4 L448.4 504.1 L453.5 503.8 L458.6 503.6 L463.7 503.4 L468.8 503.2 L473.9 503.0 L479.0 502.9 L484.0 502.8 L489.1 502.8 L494.2 502.7 L499.3 502.7 L504.4 502.7 L509.5 502.7 L514.6 502.8 L519.7 502.8 L524.8 502.9 L529.9 502.9 L535.0 503.0 L540.1 503.1 L545.2 503.1M181.4 584.7 L186.0 583.7 L190.6 582.7 L195.3 581.7 L199.9 580.7 L204.5 579.8 L209.1 578.8 L213.8 577.8 L218.4 576.8 L223.0 575.9 L227.6 574.9 L232.3 573.9 L236.9 572.9 L241.5 572.0 L246.1 571.0 L250.8 570.0 L255.4 569.1 L260.0 568.2 L264.6 567.3 L269.2 566.4 L273.9 565.6 L278.5 564.7 L283.1 563.9 L287.7 563.2 L292.4 562.4 L297.0 561.7 L301.6 560.9 L306.2 560.2 L310.9 559.5 L315.5 558.8 L320.1 558.0 L324.7 557.3 L329.4 556.6 L334.0 555.9 L338.6 555.3 L343.2 554.7 L347.9 554.1 L352.5 553.5 L357.1 553.0 L361.7 552.5 L366.4 552.0 L371.0 551.6 L375.6 551.2 L380.2 550.8 L384.9 550.5 L389.5 550.2 L394.1 549.9 L398.7 549.6 L403.4 549.3 L408.0 549.1 L412.6 548.9 L417.2 548.7 L421.9 548.5 L426.5 548.3 L431.1 548.2 L435.7 548.1 L440.4 548.0 L445.0 547.9 L449.6 547.9 L454.2 547.9 L458.8 547.8 L463.5 547.8 L468.1 547.9 L472.7 547.9 L477.3 547.9 L482.0 548.0 L486.6 548.0 L491.2 548.1 L495.8 548.1 L500.5 548.2M168.7 612.7 L172.8 612.0 L176.9 611.3 L181.1 610.6 L185.2 609.9 L189.4 609.1 L193.5 608.4 L197.6 607.7 L201.8 607.0 L205.9 606.3 L210.1 605.6 L214.2 604.9 L218.3 604.2 L222.5 603.5 L226.6 602.8 L230.8 602.1 L234.9 601.4 L239.1 600.8 L243.2 600.1 L247.3 599.5 L251.5 598.8 L255.6 598.3 L259.8 597.7 L263.9 597.1 L268.0 596.6 L272.2 596.0 L276.3 595.5 L280.5 594.9 L284.6 594.4 L288.7 593.9 L292.9 593.3 L297.0 592.8 L301.2 592.3 L305.3 591.8 L309.5 591.3 L313.6 590.9 L317.7 590.5 L321.9 590.0 L326.0 589.7 L330.2 589.3 L334.3 589.0 L338.4 588.6 L342.6 588.4 L346.7 588.1 L350.9 587.9 L355.0 587.6 L359.2 587.4 L363.3 587.2 L367.4 587.0 L371.6 586.9 L375.7 586.7 L379.9 586.6 L384.0 586.4 L388.1 586.3 L392.3 586.2 L396.4 586.1 L400.6 586.1 L404.7 586.0 L408.8 586.0 L413.0 586.0 L417.1 586.0 L421.3 586.0 L425.4 586.0 L429.6 586.0 L433.7 586.0 L437.8 586.1 L442.0 586.1 L446.1 586.1 L450.3 586.2 L454.4 586.2M155.7 634.8 L159.3 634.3 L163.0 633.8 L166.6 633.3 L170.3 632.8 L173.9 632.3 L177.6 631.8 L181.2 631.3 L184.9 630.8 L188.5 630.4 L192.2 629.9 L195.8 629.4 L199.5 628.9 L203.1 628.4 L206.8 627.9 L210.4 627.4 L214.1 626.9 L217.7 626.5 L221.4 626.0 L225.0 625.6 L228.7 625.1 L232.3 624.7 L236.0 624.3 L239.6 623.9 L243.3 623.5 L246.9 623.1 L250.6 622.8 L254.2 622.4 L257.9 622.0 L261.5 621.6 L265.2 621.2 L268.8 620.8 L272.5 620.5 L276.1 620.1 L279.8 619.8 L283.4 619.5 L287.1 619.2 L290.7 618.9 L294.4 618.6 L298.0 618.4 L301.7 618.1 L305.3 617.9 L309.0 617.7 L312.6 617.5 L316.2 617.4 L319.9 617.2 L323.5 617.1 L327.2 616.9 L330.8 616.8 L334.5 616.7 L338.1 616.6 L341.8 616.5 L345.4 616.4 L349.1 616.3 L352.7 616.3 L356.4 616.2 L360.0 616.2 L363.7 616.2 L367.3 616.1 L371.0 616.1 L374.6 616.1 L378.3 616.1 L381.9 616.1 L385.6 616.1 L389.2 616.2 L392.9 616.2 L396.5 616.2 L400.2 616.2 L403.8 616.3 L407.5 616.3M142.6 652.4 L145.7 652.1 L148.9 651.7 L152.0 651.4 L155.2 651.1 L158.3 650.7 L161.5 650.4 L164.6 650.1 L167.8 649.8 L170.9 649.4 L174.1 649.1 L177.2 648.8 L180.4 648.4 L183.5 648.1 L186.7 647.8 L189.8 647.5 L193.0 647.2 L196.2 646.9 L199.3 646.6 L202.5 646.3 L205.6 646.0 L208.8 645.7 L211.9 645.4 L215.1 645.1 L218.2 644.9 L221.4 644.6 L224.5 644.4 L227.7 644.1 L230.8 643.8 L234.0 643.6 L237.1 643.3 L240.3 643.1 L243.4 642.8 L246.6 642.6 L249.7 642.3 L252.9 642.1 L256.0 641.9 L259.2 641.7 L262.3 641.6 L265.5 641.4 L268.6 641.2 L271.8 641.1 L274.9 641.0 L278.1 640.9 L281.2 640.7 L284.4 640.6 L287.6 640.6 L290.7 640.5 L293.9 640.4 L297.0 640.3 L300.2 640.3 L303.3 640.2 L306.5 640.1 L309.6 640.1 L312.8 640.1 L315.9 640.0 L319.1 640.0 L322.2 640.0 L325.4 640.0 L328.5 640.0 L331.7 640.0 L334.8 640.0 L338.0 640.0 L341.1 640.0 L344.3 640.0 L347.4 640.0 L350.6 640.0 L353.7 640.0 L356.9 640.1 L360.0 640.1M129.1 665.3 L131.7 665.1 L134.4 664.8 L137.0 664.6 L139.6 664.4 L142.3 664.2 L144.9 664.0 L147.6 663.8 L150.2 663.6 L152.8 663.4 L155.5 663.2 L158.1 663.0 L160.8 662.8 L163.4 662.6 L166.0 662.4 L168.7 662.2 L171.3 662.0 L174.0 661.8 L176.6 661.6 L179.2 661.4 L181.9 661.3 L184.5 661.1 L187.2 660.9 L189.8 660.7 L192.4 660.6 L195.1 660.4 L197.7 660.2 L200.4 660.1 L203.0 659.9 L205.6 659.7 L208.3 659.5 L210.9 659.4 L213.6 659.2 L216.2 659.0 L218.8 658.9 L221.5 658.8 L224.1 658.6 L226.8 658.5 L229.4 658.4 L232.0 658.3 L234.7 658.2 L237.3 658.1 L240.0 658.0 L242.6 658.0 L245.2 657.9 L247.9 657.9 L250.5 657.8 L253.2 657.8 L255.8 657.7 L258.4 657.7 L261.1 657.6 L263.7 657.6 L266.4 657.6 L269.0 657.6 L271.6 657.5 L274.3 657.5 L276.9 657.5 L279.6 657.5 L282.2 657.5 L284.8 657.5 L287.5 657.5 L290.1 657.5 L292.8 657.5 L295.4 657.5 L298.0 657.5 L300.7 657.5 L303.3 657.5 L306.0 657.5 L308.6 657.6 L311.2 657.6M115.5 674.9 L117.6 674.8 L119.7 674.6 L121.8 674.5 L124.0 674.4 L126.1 674.3 L128.2 674.2 L130.3 674.1 L132.5 673.9 L134.6 673.8 L136.7 673.7 L138.8 673.6 L141.0 673.5 L143.1 673.4 L145.2 673.3 L147.3 673.1 L149.5 673.0 L151.6 672.9 L153.7 672.8 L155.8 672.7 L157.9 672.6 L160.1 672.5 L162.2 672.4 L164.3 672.3 L166.4 672.2 L168.6 672.1 L170.7 672.0 L172.8 671.9 L174.9 671.8 L177.1 671.7 L179.2 671.6 L181.3 671.5 L183.4 671.4 L185.6 671.3 L187.7 671.2 L189.8 671.1 L191.9 671.0 L194.0 670.9 L196.2 670.9 L198.3 670.8 L200.4 670.8 L202.5 670.7 L204.7 670.7 L206.8 670.6 L208.9 670.6 L211.0 670.6 L213.2 670.6 L215.3 670.6 L217.4 670.5 L219.5 670.5 L221.7 670.5 L223.8 670.5 L225.9 670.5 L228.0 670.5 L230.1 670.4 L232.3 670.4 L234.4 670.4 L236.5 670.4 L238.6 670.4 L240.8 670.4 L242.9 670.4 L245.0 670.4 L247.1 670.4 L249.3 670.4 L251.4 670.4 L253.5 670.5 L255.6 670.5 L257.8 670.5 L259.9 670.5 L262.0 670.5M89.5 685.4 L90.6 685.4 L91.8 685.3 L92.9 685.3 L94.1 685.3 L95.2 685.2 L96.3 685.2 L97.5 685.2 L98.6 685.2 L99.8 685.1 L100.9 685.1 L102.0 685.1 L103.2 685.0 L104.3 685.0 L105.4 685.0 L106.6 685.0 L107.7 684.9 L108.9 684.9 L110.0 684.9 L111.1 684.8 L112.3 684.8 L113.4 684.8 L114.6 684.8 L115.7 684.7 L116.8 684.7 L118.0 684.7 L119.1 684.6 L120.3 684.6 L121.4 684.6 L122.5 684.5 L123.7 684.5 L124.8 684.5 L125.9 684.4 L127.1 684.4 L128.2 684.4 L129.4 684.3 L130.5 684.3 L131.6 684.3 L132.8 684.3 L133.9 684.3 L135.1 684.3 L136.2 684.2 L137.3 684.2 L138.5 684.2 L139.6 684.2 L140.7 684.2 L141.9 684.2 L143.0 684.2 L144.2 684.2 L145.3 684.2 L146.4 684.2 L147.6 684.2 L148.7 684.2 L149.9 684.2 L151.0 684.2 L152.1 684.2 L153.3 684.2 L154.4 684.2 L155.5 684.2 L156.7 684.2 L157.8 684.2 L159.0 684.2 L160.1 684.2 L161.2 684.2 L162.4 684.2 L163.5 684.3 L164.7 684.3 L165.8 684.3 L166.9 684.3 L168.1 684.3" stroke="#1c4f8e" stroke-width="1.45" fill="none"/>
<path d="M59.5 665.8 L64.1 665.8 L68.8 665.8 L73.4 665.8 L78.0 665.8 L82.6 665.8 L87.3 665.8 L91.9 665.8 L96.5 665.8 L101.2 665.8 L105.8 665.8 L110.4 665.8 L115.0 665.8 L119.7 665.8 L124.3 665.8 L128.9 665.8 L133.6 665.8 L138.2 665.8 L142.8 665.8 L147.4 665.8 L152.1 665.8 L156.7 665.8 L161.3 665.8 L166.0 665.8 L170.6 665.8 L175.2 665.8 L179.9 665.8 L184.5 665.8 L189.1 665.8 L193.7 665.8M59.5 670.2 L63.7 670.2 L67.9 670.2 L72.1 670.2 L76.3 670.2 L80.5 670.2 L84.7 670.2 L88.9 670.2 L93.1 670.2 L97.3 670.2 L101.5 670.2 L105.7 670.2 L109.9 670.2 L114.1 670.2 L118.3 670.2 L122.5 670.2 L126.7 670.2 L130.9 670.2 L135.2 670.2 L139.4 670.2 L143.6 670.2 L147.8 670.2 L152.0 670.2 L156.2 670.2 L160.4 670.2 L164.6 670.2 L168.8 670.2 L173.0 670.2 L177.2 670.2 L181.4 670.2M59.5 674.2 L63.3 674.2 L67.0 674.2 L70.8 674.2 L74.6 674.2 L78.3 674.2 L82.1 674.2 L85.8 674.2 L89.6 674.2 L93.4 674.2 L97.1 674.2 L100.9 674.2 L104.7 674.2 L108.4 674.2 L112.2 674.2 L116.0 674.2 L119.7 674.2 L123.5 674.2 L127.2 674.2 L131.0 674.2 L134.8 674.2 L138.5 674.2 L142.3 674.2 L146.1 674.2 L149.8 674.2 L153.6 674.2 L157.4 674.2 L161.1 674.2 L164.9 674.2 L168.7 674.2M59.5 677.9 L62.8 677.9 L66.1 677.9 L69.4 677.9 L72.8 677.9 L76.1 677.9 L79.4 677.9 L82.7 677.9 L86.0 677.9 L89.3 677.9 L92.7 677.9 L96.0 677.9 L99.3 677.9 L102.6 677.9 L105.9 677.9 L109.2 677.9 L112.6 677.9 L115.9 677.9 L119.2 677.9 L122.5 677.9 L125.8 677.9 L129.1 677.9 L132.5 677.9 L135.8 677.9 L139.1 677.9 L142.4 677.9 L145.7 677.9 L149.0 677.9 L152.4 677.9 L155.7 677.9M59.5 681.2 L62.4 681.2 L65.2 681.2 L68.1 681.2 L71.0 681.2 L73.8 681.2 L76.7 681.2 L79.6 681.2 L82.4 681.2 L85.3 681.2 L88.1 681.2 L91.0 681.2 L93.9 681.2 L96.7 681.2 L99.6 681.2 L102.5 681.2 L105.3 681.2 L108.2 681.2 L111.1 681.2 L113.9 681.2 L116.8 681.2 L119.7 681.2 L122.5 681.2 L125.4 681.2 L128.2 681.2 L131.1 681.2 L134.0 681.2 L136.8 681.2 L139.7 681.2 L142.6 681.2M59.5 684.0 L61.9 684.0 L64.3 684.0 L66.7 684.0 L69.1 684.0 L71.5 684.0 L73.9 684.0 L76.3 684.0 L78.7 684.0 L81.1 684.0 L83.5 684.0 L85.9 684.0 L88.3 684.0 L90.7 684.0 L93.1 684.0 L95.5 684.0 L97.9 684.0 L100.3 684.0 L102.7 684.0 L105.1 684.0 L107.5 684.0 L109.9 684.0 L112.3 684.0 L114.7 684.0 L117.1 684.0 L119.5 684.0 L121.9 684.0 L124.3 684.0 L126.7 684.0 L129.1 684.0M59.5 686.4 L61.4 686.4 L63.4 686.4 L65.3 686.4 L67.2 686.4 L69.2 686.4 L71.1 686.4 L73.0 686.4 L74.9 686.4 L76.9 686.4 L78.8 686.4 L80.7 686.4 L82.7 686.4 L84.6 686.4 L86.5 686.4 L88.5 686.4 L90.4 686.4 L92.3 686.4 L94.2 686.4 L96.2 686.4 L98.1 686.4 L100.0 686.4 L102.0 686.4 L103.9 686.4 L105.8 686.4 L107.8 686.4 L109.7 686.4 L111.6 686.4 L113.5 686.4 L115.5 686.4M59.5 689.5 L60.5 689.5 L61.6 689.5 L62.6 689.5 L63.6 689.5 L64.7 689.5 L65.7 689.5 L66.7 689.5 L67.8 689.5 L68.8 689.5 L69.8 689.5 L70.9 689.5 L71.9 689.5 L73.0 689.5 L74.0 689.5 L75.0 689.5 L76.1 689.5 L77.1 689.5 L78.1 689.5 L79.2 689.5 L80.2 689.5 L81.2 689.5 L82.3 689.5 L83.3 689.5 L84.3 689.5 L85.4 689.5 L86.4 689.5 L87.4 689.5 L88.5 689.5 L89.5 689.5" stroke="#111" stroke-width="0.7" fill="none"/>
<path d="M193.7 665.8 L198.8 665.8 L203.9 665.8 L209.0 665.8 L214.1 665.8 L219.2 665.7 L224.3 665.7 L229.4 665.7 L234.5 665.7 L239.6 665.6 L244.7 665.6 L249.8 665.6 L254.9 665.5 L259.9 665.5 L265.0 665.5 L270.1 665.4 L275.2 665.4 L280.3 665.3 L285.4 665.2 L290.5 665.1 L295.6 664.9 L300.7 664.8 L305.8 664.6 L310.9 664.5 L316.0 664.2 L321.1 663.9 L326.2 663.6 L331.3 663.2 L336.3 662.8 L341.4 662.3 L346.5 661.8 L351.6 661.2 L356.7 660.5 L361.8 659.8 L366.9 659.0 L372.0 658.1 L377.1 657.0 L382.2 655.8 L387.3 654.5 L392.4 653.2 L397.5 651.8 L402.6 650.5 L407.7 649.1 L412.7 647.7 L417.8 646.3 L422.9 644.8 L428.0 643.2 L433.1 641.6 L438.2 640.0 L443.3 638.3 L448.4 636.6 L453.5 634.8 L458.6 633.0 L463.7 631.1 L468.8 629.2 L473.9 627.2 L479.0 625.1 L484.0 623.0 L489.1 620.8 L494.2 618.6 L499.3 616.2 L504.4 613.8 L509.5 611.3 L514.6 608.7 L519.7 606.1 L524.8 603.3 L529.9 600.5 L535.0 597.5 L540.1 594.5 L545.2 591.4M181.4 670.2 L186.0 670.2 L190.6 670.2 L195.3 670.2 L199.9 670.1 L204.5 670.1 L209.1 670.1 L213.8 670.1 L218.4 670.1 L223.0 670.0 L227.6 670.0 L232.3 670.0 L236.9 670.0 L241.5 669.9 L246.1 669.9 L250.8 669.9 L255.4 669.8 L260.0 669.7 L264.6 669.7 L269.2 669.6 L273.9 669.5 L278.5 669.3 L283.1 669.2 L287.7 669.1 L292.4 668.9 L297.0 668.6 L301.6 668.3 L306.2 668.0 L310.9 667.7 L315.5 667.3 L320.1 666.9 L324.7 666.4 L329.4 665.8 L334.0 665.2 L338.6 664.6 L343.2 663.8 L347.9 662.9 L352.5 661.9 L357.1 660.9 L361.7 659.8 L366.4 658.7 L371.0 657.6 L375.6 656.4 L380.2 655.3 L384.9 654.1 L389.5 652.8 L394.1 651.6 L398.7 650.2 L403.4 648.9 L408.0 647.5 L412.6 646.1 L417.2 644.6 L421.9 643.1 L426.5 641.6 L431.1 640.0 L435.7 638.3 L440.4 636.7 L445.0 634.9 L449.6 633.1 L454.2 631.2 L458.8 629.3 L463.5 627.3 L468.1 625.3 L472.7 623.1 L477.3 620.9 L482.0 618.7 L486.6 616.3 L491.2 613.9 L495.8 611.4 L500.5 608.9M168.7 674.2 L172.8 674.2 L176.9 674.2 L181.1 674.2 L185.2 674.2 L189.4 674.2 L193.5 674.2 L197.6 674.2 L201.8 674.2 L205.9 674.1 L210.1 674.1 L214.2 674.1 L218.3 674.1 L222.5 674.0 L226.6 674.0 L230.8 674.0 L234.9 673.9 L239.1 673.9 L243.2 673.8 L247.3 673.7 L251.5 673.7 L255.6 673.6 L259.8 673.5 L263.9 673.4 L268.0 673.2 L272.2 673.0 L276.3 672.8 L280.5 672.5 L284.6 672.3 L288.7 671.9 L292.9 671.6 L297.0 671.2 L301.2 670.7 L305.3 670.3 L309.5 669.8 L313.6 669.1 L317.7 668.4 L321.9 667.6 L326.0 666.8 L330.2 665.9 L334.3 665.0 L338.4 664.1 L342.6 663.2 L346.7 662.3 L350.9 661.3 L355.0 660.3 L359.2 659.3 L363.3 658.3 L367.4 657.2 L371.6 656.1 L375.7 654.9 L379.9 653.8 L384.0 652.6 L388.1 651.3 L392.3 650.0 L396.4 648.7 L400.6 647.4 L404.7 646.0 L408.8 644.5 L413.0 643.0 L417.1 641.5 L421.3 639.9 L425.4 638.2 L429.6 636.5 L433.7 634.7 L437.8 632.9 L442.0 631.0 L446.1 629.1 L450.3 627.1 L454.4 625.1M155.7 677.9 L159.3 677.9 L163.0 677.9 L166.6 677.9 L170.3 677.9 L173.9 677.9 L177.6 677.9 L181.2 677.9 L184.9 677.9 L188.5 677.8 L192.2 677.8 L195.8 677.8 L199.5 677.8 L203.1 677.8 L206.8 677.7 L210.4 677.7 L214.1 677.7 L217.7 677.6 L221.4 677.6 L225.0 677.5 L228.7 677.5 L232.3 677.4 L236.0 677.3 L239.6 677.2 L243.3 677.1 L246.9 677.0 L250.6 676.8 L254.2 676.6 L257.9 676.4 L261.5 676.1 L265.2 675.9 L268.8 675.5 L272.5 675.2 L276.1 674.8 L279.8 674.4 L283.4 674.0 L287.1 673.4 L290.7 672.8 L294.4 672.1 L298.0 671.4 L301.7 670.7 L305.3 670.1 L309.0 669.4 L312.6 668.6 L316.2 667.9 L319.9 667.1 L323.5 666.3 L327.2 665.5 L330.8 664.7 L334.5 663.8 L338.1 662.9 L341.8 662.0 L345.4 661.1 L349.1 660.1 L352.7 659.1 L356.4 658.1 L360.0 657.0 L363.7 656.0 L367.3 654.8 L371.0 653.7 L374.6 652.5 L378.3 651.2 L381.9 650.0 L385.6 648.6 L389.2 647.3 L392.9 645.8 L396.5 644.4 L400.2 642.9 L403.8 641.3 L407.5 639.7M142.6 681.2 L145.7 681.2 L148.9 681.2 L152.0 681.2 L155.2 681.2 L158.3 681.1 L161.5 681.1 L164.6 681.1 L167.8 681.1 L170.9 681.1 L174.1 681.1 L177.2 681.1 L180.4 681.1 L183.5 681.1 L186.7 681.0 L189.8 681.0 L193.0 681.0 L196.2 681.0 L199.3 680.9 L202.5 680.9 L205.6 680.8 L208.8 680.8 L211.9 680.7 L215.1 680.7 L218.2 680.6 L221.4 680.4 L224.5 680.3 L227.7 680.2 L230.8 680.0 L234.0 679.8 L237.1 679.6 L240.3 679.4 L243.4 679.1 L246.6 678.9 L249.7 678.6 L252.9 678.2 L256.0 677.8 L259.2 677.3 L262.3 676.8 L265.5 676.3 L268.6 675.8 L271.8 675.3 L274.9 674.8 L278.1 674.2 L281.2 673.7 L284.4 673.1 L287.6 672.5 L290.7 671.9 L293.9 671.3 L297.0 670.6 L300.2 670.0 L303.3 669.3 L306.5 668.6 L309.6 667.9 L312.8 667.1 L315.9 666.4 L319.1 665.6 L322.2 664.8 L325.4 663.9 L328.5 663.1 L331.7 662.2 L334.8 661.3 L338.0 660.3 L341.1 659.3 L344.3 658.3 L347.4 657.2 L350.6 656.1 L353.7 655.0 L356.9 653.9 L360.0 652.7M129.1 684.0 L131.7 684.0 L134.4 684.0 L137.0 684.0 L139.6 684.0 L142.3 684.0 L144.9 684.0 L147.6 684.0 L150.2 684.0 L152.8 684.0 L155.5 684.0 L158.1 684.0 L160.8 683.9 L163.4 683.9 L166.0 683.9 L168.7 683.9 L171.3 683.9 L174.0 683.9 L176.6 683.8 L179.2 683.8 L181.9 683.8 L184.5 683.7 L187.2 683.7 L189.8 683.7 L192.4 683.6 L195.1 683.5 L197.7 683.4 L200.4 683.3 L203.0 683.2 L205.6 683.1 L208.3 682.9 L210.9 682.8 L213.6 682.6 L216.2 682.4 L218.8 682.2 L221.5 681.9 L224.1 681.6 L226.8 681.3 L229.4 681.0 L232.0 680.6 L234.7 680.3 L237.3 679.9 L240.0 679.5 L242.6 679.2 L245.2 678.8 L247.9 678.4 L250.5 677.9 L253.2 677.5 L255.8 677.1 L258.4 676.6 L261.1 676.2 L263.7 675.7 L266.4 675.2 L269.0 674.7 L271.6 674.2 L274.3 673.6 L276.9 673.1 L279.6 672.5 L282.2 671.9 L284.8 671.3 L287.5 670.7 L290.1 670.0 L292.8 669.4 L295.4 668.7 L298.0 668.0 L300.7 667.2 L303.3 666.5 L306.0 665.7 L308.6 664.9 L311.2 664.0M115.5 686.4 L117.6 686.4 L119.7 686.4 L121.8 686.4 L124.0 686.4 L126.1 686.4 L128.2 686.4 L130.3 686.4 L132.5 686.3 L134.6 686.3 L136.7 686.3 L138.8 686.3 L141.0 686.3 L143.1 686.3 L145.2 686.3 L147.3 686.3 L149.5 686.3 L151.6 686.3 L153.7 686.3 L155.8 686.2 L157.9 686.2 L160.1 686.2 L162.2 686.2 L164.3 686.1 L166.4 686.1 L168.6 686.0 L170.7 686.0 L172.8 685.9 L174.9 685.9 L177.1 685.8 L179.2 685.7 L181.3 685.6 L183.4 685.5 L185.6 685.3 L187.7 685.2 L189.8 685.0 L191.9 684.8 L194.0 684.6 L196.2 684.4 L198.3 684.2 L200.4 683.9 L202.5 683.7 L204.7 683.5 L206.8 683.2 L208.9 683.0 L211.0 682.7 L213.2 682.4 L215.3 682.2 L217.4 681.9 L219.5 681.6 L221.7 681.3 L223.8 681.0 L225.9 680.7 L228.0 680.3 L230.1 680.0 L232.3 679.7 L234.4 679.3 L236.5 678.9 L238.6 678.6 L240.8 678.2 L242.9 677.8 L245.0 677.3 L247.1 676.9 L249.3 676.5 L251.4 676.0 L253.5 675.5 L255.6 675.0 L257.8 674.5 L259.9 674.0 L262.0 673.4M89.5 689.5 L90.6 689.5 L91.8 689.5 L92.9 689.5 L94.1 689.5 L95.2 689.5 L96.3 689.5 L97.5 689.5 L98.6 689.4 L99.8 689.4 L100.9 689.4 L102.0 689.4 L103.2 689.4 L104.3 689.4 L105.4 689.4 L106.6 689.4 L107.7 689.4 L108.9 689.4 L110.0 689.4 L111.1 689.4 L112.3 689.4 L113.4 689.4 L114.6 689.4 L115.7 689.4 L116.8 689.4 L118.0 689.4 L119.1 689.3 L120.3 689.3 L121.4 689.3 L122.5 689.3 L123.7 689.3 L124.8 689.2 L125.9 689.2 L127.1 689.2 L128.2 689.1 L129.4 689.1 L130.5 689.0 L131.6 689.0 L132.8 688.9 L133.9 688.8 L135.1 688.8 L136.2 688.7 L137.3 688.6 L138.5 688.6 L139.6 688.5 L140.7 688.4 L141.9 688.3 L143.0 688.2 L144.2 688.2 L145.3 688.1 L146.4 688.0 L147.6 687.9 L148.7 687.8 L149.9 687.7 L151.0 687.6 L152.1 687.5 L153.3 687.4 L154.4 687.3 L155.5 687.2 L156.7 687.1 L157.8 687.0 L159.0 686.9 L160.1 686.7 L161.2 686.6 L162.4 686.5 L163.5 686.3 L164.7 686.2 L165.8 686.0 L166.9 685.9 L168.1 685.7" stroke="#111" stroke-width="1.45" fill="none"/>
<path d="M59.6 458.4V691.0" stroke="#787b80" stroke-width="1.7" fill="none"/>
<path d="M593.8 458.4V691.0" stroke="#646464" stroke-width="1.7" fill="none"/>
<path d="M59.0 458.4H594.6 M55 691.0H598.3" stroke="#646464" stroke-width="1.1" fill="none"/>
<path d="M55 657.50H59.5M593.7 657.50H598.3M55 624.30H59.5M593.7 624.30H598.3M55 591.10H59.5M593.7 591.10H598.3M55 557.90H59.5M593.7 557.90H598.3M55 524.70H59.5M593.7 524.70H598.3M55 491.50H59.5M593.7 491.50H598.3" stroke="#222" stroke-width="1" fill="none"/>
<text x="50.2" y="694.7" text-anchor="end">0.0</text>
<text x="601.6" y="694.7">0</text>
<text x="50.2" y="661.5" text-anchor="end">0.1</text>
<text x="601.6" y="661.5">2</text>
<text x="50.2" y="628.3" text-anchor="end">0.2</text>
<text x="601.6" y="628.3">4</text>
<text x="50.2" y="595.1" text-anchor="end">0.3</text>
<text x="601.6" y="595.1">6</text>
<text x="50.2" y="561.9" text-anchor="end">0.4</text>
<text x="601.6" y="561.9">8</text>
<text x="50.2" y="528.7" text-anchor="end">0.5</text>
<text x="601.6" y="528.7">10</text>
<text x="28.6" y="467.4" text-anchor="middle">P</text>
<text x="29.2" y="481" text-anchor="middle">[кВт]</text>
<text x="625.3" y="467.4" text-anchor="middle">NPSH</text>
<text x="625.5" y="481" text-anchor="middle">[м]</text>
<text x="378.6" y="499.8" textLength="155.2" lengthAdjust="spacing" class="b" fill="#2b5c9e">P1 (двиг.+преобр-ль частоты)</text>
<text x="528" y="543.6" class="b" fill="#2b5c9e">P2</text>
</svg>
</body></html>
